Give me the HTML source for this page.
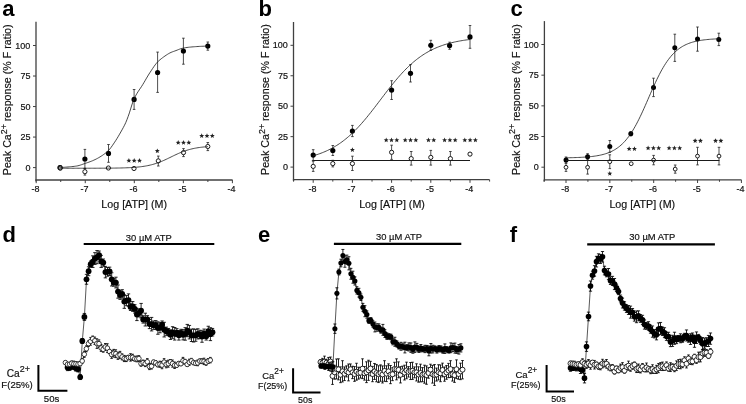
<!DOCTYPE html>
<html><head><meta charset="utf-8"><title>Figure</title><style>html,body{margin:0;padding:0;background:#fff;width:746px;height:404px;overflow:hidden}
svg{display:block;will-change:transform}
text{font-family:"Liberation Sans", sans-serif;fill:#111;stroke:#111;stroke-width:0.18px}
.tk{font-size:9px}
.ttl{font-size:10.7px}
.pl{font-size:22px;font-weight:bold;fill:#000;stroke:none}
.st{font-size:13px;letter-spacing:0px}
.atp{font-size:9.4px}
</style></head><body>
<svg width="746" height="404" viewBox="0 0 746 404">
<rect width="746" height="404" fill="#fff"/>
<line x1="36" y1="21.8" x2="36" y2="181.6" stroke="#404040" stroke-width="1.3"/>
<line x1="35.4" y1="180" x2="232.6" y2="180" stroke="#404040" stroke-width="1.3"/>
<line x1="33" y1="167.6" x2="36" y2="167.6" stroke="#404040" stroke-width="1"/>
<text x="30.4" y="170.7" text-anchor="end" class="tk">0</text>
<line x1="33" y1="137.07" x2="36" y2="137.07" stroke="#404040" stroke-width="1"/>
<text x="30.4" y="140.17" text-anchor="end" class="tk">25</text>
<line x1="33" y1="106.55" x2="36" y2="106.55" stroke="#404040" stroke-width="1"/>
<text x="30.4" y="109.65" text-anchor="end" class="tk">50</text>
<line x1="33" y1="76.02" x2="36" y2="76.02" stroke="#404040" stroke-width="1"/>
<text x="30.4" y="79.12" text-anchor="end" class="tk">75</text>
<line x1="33" y1="45.5" x2="36" y2="45.5" stroke="#404040" stroke-width="1"/>
<text x="30.4" y="48.6" text-anchor="end" class="tk">100</text>
<line x1="36.2" y1="180" x2="36.2" y2="183.2" stroke="#404040" stroke-width="1"/>
<text x="35.4" y="192.3" text-anchor="middle" class="tk">-8</text>
<line x1="60.73" y1="180" x2="60.73" y2="182" stroke="#404040" stroke-width="1"/>
<line x1="85.25" y1="180" x2="85.25" y2="183.2" stroke="#404040" stroke-width="1"/>
<text x="84.45" y="192.3" text-anchor="middle" class="tk">-7</text>
<line x1="109.77" y1="180" x2="109.77" y2="182" stroke="#404040" stroke-width="1"/>
<line x1="134.3" y1="180" x2="134.3" y2="183.2" stroke="#404040" stroke-width="1"/>
<text x="133.5" y="192.3" text-anchor="middle" class="tk">-6</text>
<line x1="158.82" y1="180" x2="158.82" y2="182" stroke="#404040" stroke-width="1"/>
<line x1="183.35" y1="180" x2="183.35" y2="183.2" stroke="#404040" stroke-width="1"/>
<text x="182.55" y="192.3" text-anchor="middle" class="tk">-5</text>
<line x1="207.88" y1="180" x2="207.88" y2="182" stroke="#404040" stroke-width="1"/>
<line x1="232.4" y1="180" x2="232.4" y2="183.2" stroke="#404040" stroke-width="1"/>
<text x="231.6" y="192.3" text-anchor="middle" class="tk">-4</text>
<text x="134.2" y="208.2" text-anchor="middle" class="ttl">Log [ATP] (M)</text>
<text transform="translate(11.2,175.2) rotate(-90)" class="ttl">Peak Ca<tspan dy="-4.2" font-size="8.8">2+</tspan><tspan dy="4.2"> response (% F ratio)</tspan></text>
<text x="2.2" y="16" class="pl">a</text>
<path d="M60 165.8V169.6M58.7 165.8h2.6M58.7 169.6h2.6" stroke="#222" stroke-width="0.8" fill="none"/>
<path d="M84.9 149.4V168.6M83.6 149.4h2.6M83.6 168.6h2.6" stroke="#222" stroke-width="0.8" fill="none"/>
<path d="M108.5 144.5V162.3M107.2 144.5h2.6M107.2 162.3h2.6" stroke="#222" stroke-width="0.8" fill="none"/>
<path d="M134.1 89.5V109.4M132.8 89.5h2.6M132.8 109.4h2.6" stroke="#222" stroke-width="0.8" fill="none"/>
<path d="M157.6 52.1V92.4M156.3 52.1h2.6M156.3 92.4h2.6" stroke="#222" stroke-width="0.8" fill="none"/>
<path d="M183.4 38.2V64.2M182.1 38.2h2.6M182.1 64.2h2.6" stroke="#222" stroke-width="0.8" fill="none"/>
<path d="M207.8 42V50.2M206.5 42h2.6M206.5 50.2h2.6" stroke="#222" stroke-width="0.8" fill="none"/>
<circle cx="60" cy="167.6" r="2.6" fill="#000"/>
<circle cx="84.9" cy="159" r="2.6" fill="#000"/>
<circle cx="108.5" cy="153.4" r="2.6" fill="#000"/>
<circle cx="134.1" cy="99.4" r="2.6" fill="#000"/>
<circle cx="157.6" cy="72.5" r="2.6" fill="#000"/>
<circle cx="183.4" cy="51" r="2.6" fill="#000"/>
<circle cx="207.8" cy="46.1" r="2.6" fill="#000"/>
<path d="M60.3 166V169.8M59 166h2.6M59 169.8h2.6" stroke="#222" stroke-width="0.8" fill="none"/>
<path d="M84.9 168.3V175.1M83.6 168.3h2.6M83.6 175.1h2.6" stroke="#222" stroke-width="0.8" fill="none"/>
<path d="M158.3 156.1V166M157 156.1h2.6M157 166h2.6" stroke="#222" stroke-width="0.8" fill="none"/>
<path d="M183.5 148.6V156.6M182.2 148.6h2.6M182.2 156.6h2.6" stroke="#222" stroke-width="0.8" fill="none"/>
<path d="M207.8 142.5V150.6M206.5 142.5h2.6M206.5 150.6h2.6" stroke="#222" stroke-width="0.8" fill="none"/>
<circle cx="60.3" cy="168" r="2.1" fill="#8a8a8a" stroke="#111" stroke-width="0.95"/>
<circle cx="84.9" cy="171.7" r="2.1" fill="#fff" stroke="#111" stroke-width="0.95"/>
<circle cx="108.4" cy="168" r="2.1" fill="#fff" stroke="#111" stroke-width="0.95"/>
<circle cx="134" cy="168.5" r="2.1" fill="#fff" stroke="#111" stroke-width="0.95"/>
<circle cx="158.3" cy="160.9" r="2.1" fill="#fff" stroke="#111" stroke-width="0.95"/>
<circle cx="183.5" cy="152.6" r="2.1" fill="#fff" stroke="#111" stroke-width="0.95"/>
<circle cx="207.8" cy="146.5" r="2.1" fill="#fff" stroke="#111" stroke-width="0.95"/>
<polyline points="60.73,167.51 61.95,167.43 63.18,167.34 64.4,167.25 65.63,167.15 66.86,167.05 68.08,166.95 69.31,166.84 70.54,166.73 71.76,166.62 72.99,166.5 74.21,166.36 75.44,166.2 76.67,166.02 77.89,165.79 79.12,165.47 80.35,165.09 81.57,164.68 82.8,164.24 84.02,163.8 85.25,163.38 86.48,162.97 87.7,162.56 88.93,162.13 90.15,161.68 91.38,161.21 92.61,160.71 93.83,160.17 95.06,159.6 96.29,158.99 97.51,158.35 98.74,157.66 99.96,156.93 101.19,156.17 102.42,155.36 103.64,154.51 104.87,153.59 106.1,152.6 107.32,151.53 108.55,150.35 109.77,149.02 111,147.47 112.23,145.76 113.45,143.96 114.68,142.13 115.91,140.26 117.13,138.3 118.36,136.26 119.59,134.15 120.81,132 122.04,129.84 123.26,127.62 124.49,125.25 125.72,122.66 126.94,119.69 128.17,116.41 129.4,112.89 130.62,108.96 131.85,104.99 133.07,101.34 134.3,98.37 135.53,95.94 136.75,93.78 137.98,91.82 139.2,89.97 140.43,88.16 141.66,86.32 142.88,84.36 144.11,82.3 145.34,80.2 146.56,78.1 147.79,76.03 149.01,74.03 150.24,72.13 151.47,70.26 152.69,68.4 153.92,66.6 155.15,64.9 156.37,63.35 157.6,62 158.82,60.81 160.05,59.72 161.28,58.72 162.5,57.78 163.73,56.89 164.96,56.03 166.18,55.19 167.41,54.38 168.63,53.63 169.86,52.96 171.09,52.39 172.31,51.89 173.54,51.45 174.77,51.01 175.99,50.57 177.22,50.08 178.44,49.58 179.67,49.11 180.9,48.71 182.12,48.39 183.35,48.11 184.58,47.86 185.8,47.65 187.03,47.47 188.25,47.31 189.48,47.17 190.71,47.05 191.93,46.93 193.16,46.83 194.39,46.74 195.61,46.65 196.84,46.57 198.06,46.49 199.29,46.42 200.52,46.35 201.74,46.29 202.97,46.24 204.2,46.2 205.42,46.16 206.65,46.13 207.88,46.11" fill="none" stroke="#1a1a1a" stroke-width="0.8"/>
<polyline points="60.73,168.25 61.95,168.25 63.18,168.25 64.4,168.25 65.63,168.25 66.86,168.25 68.08,168.25 69.31,168.25 70.54,168.25 71.76,168.25 72.99,168.25 74.21,168.25 75.44,168.24 76.67,168.24 77.89,168.24 79.12,168.24 80.35,168.24 81.57,168.24 82.8,168.24 84.02,168.24 85.25,168.24 86.48,168.24 87.7,168.23 88.93,168.23 90.15,168.23 91.38,168.23 92.61,168.23 93.83,168.22 95.06,168.22 96.29,168.22 97.51,168.21 98.74,168.21 99.96,168.2 101.19,168.2 102.42,168.19 103.64,168.19 104.87,168.18 106.1,168.17 107.32,168.16 108.55,168.15 109.77,168.14 111,168.13 112.23,168.12 113.45,168.1 114.68,168.08 115.91,168.06 117.13,168.04 118.36,168.02 119.59,168 120.81,167.97 122.04,167.94 123.26,167.9 124.49,167.86 125.72,167.82 126.94,167.77 128.17,167.72 129.4,167.66 130.62,167.6 131.85,167.53 133.07,167.45 134.3,167.36 135.53,167.27 136.75,167.16 137.98,167.04 139.2,166.92 140.43,166.78 141.66,166.62 142.88,166.45 144.11,166.27 145.34,166.07 146.56,165.85 147.79,165.61 149.01,165.35 150.24,165.07 151.47,164.77 152.69,164.44 153.92,164.1 155.15,163.72 156.37,163.32 157.6,162.9 158.82,162.45 160.05,161.98 161.28,161.49 162.5,160.98 163.73,160.44 164.96,159.89 166.18,159.32 167.41,158.74 168.63,158.15 169.86,157.56 171.09,156.96 172.31,156.36 173.54,155.76 174.77,155.17 175.99,154.6 177.22,154.03 178.44,153.48 179.67,152.95 180.9,152.44 182.12,151.95 183.35,151.48 184.58,151.04 185.8,150.62 187.03,150.22 188.25,149.85 189.48,149.51 190.71,149.19 191.93,148.89 193.16,148.61 194.39,148.35 195.61,148.12 196.84,147.9 198.06,147.7 199.29,147.52 200.52,147.35 201.74,147.2 202.97,147.06 204.2,146.94 205.42,146.82 206.65,146.72 207.88,146.63" fill="none" stroke="#1a1a1a" stroke-width="0.8"/>
<polygon points="128.9,158.1 129.58,159.77 131.37,159.9 129.99,161.06 130.43,162.8 128.9,161.85 127.37,162.8 127.81,161.06 126.43,159.9 128.22,159.77" fill="#222"/>
<polygon points="134.2,158.1 134.88,159.77 136.67,159.9 135.29,161.06 135.73,162.8 134.2,161.85 132.67,162.8 133.11,161.06 131.73,159.9 133.52,159.77" fill="#222"/>
<polygon points="139.5,158.1 140.18,159.77 141.97,159.9 140.59,161.06 141.03,162.8 139.5,161.85 137.97,162.8 138.41,161.06 137.03,159.9 138.82,159.77" fill="#222"/>
<polygon points="157.3,148.4 157.98,150.07 159.77,150.2 158.39,151.36 158.83,153.1 157.3,152.15 155.77,153.1 156.21,151.36 154.83,150.2 156.62,150.07" fill="#222"/>
<polygon points="178.2,140.1 178.88,141.77 180.67,141.9 179.29,143.06 179.73,144.8 178.2,143.85 176.67,144.8 177.11,143.06 175.73,141.9 177.52,141.77" fill="#222"/>
<polygon points="183.5,140.1 184.18,141.77 185.97,141.9 184.59,143.06 185.03,144.8 183.5,143.85 181.97,144.8 182.41,143.06 181.03,141.9 182.82,141.77" fill="#222"/>
<polygon points="188.8,140.1 189.48,141.77 191.27,141.9 189.89,143.06 190.33,144.8 188.8,143.85 187.27,144.8 187.71,143.06 186.33,141.9 188.12,141.77" fill="#222"/>
<polygon points="201.7,133.3 202.38,134.97 204.17,135.1 202.79,136.26 203.23,138 201.7,137.05 200.17,138 200.61,136.26 199.23,135.1 201.02,134.97" fill="#222"/>
<polygon points="207,133.3 207.68,134.97 209.47,135.1 208.09,136.26 208.53,138 207,137.05 205.47,138 205.91,136.26 204.53,135.1 206.32,134.97" fill="#222"/>
<polygon points="212.3,133.3 212.98,134.97 214.77,135.1 213.39,136.26 213.83,138 212.3,137.05 210.77,138 211.21,136.26 209.83,135.1 211.62,134.97" fill="#222"/>
<line x1="293.5" y1="22" x2="293.5" y2="181.2" stroke="#404040" stroke-width="1.3"/>
<line x1="292.9" y1="179.6" x2="489.5" y2="179.6" stroke="#404040" stroke-width="1.3"/>
<line x1="290.5" y1="167.1" x2="293.5" y2="167.1" stroke="#404040" stroke-width="1"/>
<text x="287.9" y="170.2" text-anchor="end" class="tk">0</text>
<line x1="290.5" y1="136.65" x2="293.5" y2="136.65" stroke="#404040" stroke-width="1"/>
<text x="287.9" y="139.75" text-anchor="end" class="tk">25</text>
<line x1="290.5" y1="106.2" x2="293.5" y2="106.2" stroke="#404040" stroke-width="1"/>
<text x="287.9" y="109.3" text-anchor="end" class="tk">50</text>
<line x1="290.5" y1="75.75" x2="293.5" y2="75.75" stroke="#404040" stroke-width="1"/>
<text x="287.9" y="78.85" text-anchor="end" class="tk">75</text>
<line x1="290.5" y1="45.3" x2="293.5" y2="45.3" stroke="#404040" stroke-width="1"/>
<text x="287.9" y="48.4" text-anchor="end" class="tk">100</text>
<line x1="293.6" y1="179.6" x2="293.6" y2="181.6" stroke="#404040" stroke-width="1"/>
<line x1="313.2" y1="179.6" x2="313.2" y2="182.8" stroke="#404040" stroke-width="1"/>
<text x="312.4" y="192.3" text-anchor="middle" class="tk">-8</text>
<line x1="332.8" y1="179.6" x2="332.8" y2="181.6" stroke="#404040" stroke-width="1"/>
<line x1="352.4" y1="179.6" x2="352.4" y2="182.8" stroke="#404040" stroke-width="1"/>
<text x="351.6" y="192.3" text-anchor="middle" class="tk">-7</text>
<line x1="372" y1="179.6" x2="372" y2="181.6" stroke="#404040" stroke-width="1"/>
<line x1="391.6" y1="179.6" x2="391.6" y2="182.8" stroke="#404040" stroke-width="1"/>
<text x="390.8" y="192.3" text-anchor="middle" class="tk">-6</text>
<line x1="411.2" y1="179.6" x2="411.2" y2="181.6" stroke="#404040" stroke-width="1"/>
<line x1="430.8" y1="179.6" x2="430.8" y2="182.8" stroke="#404040" stroke-width="1"/>
<text x="430" y="192.3" text-anchor="middle" class="tk">-5</text>
<line x1="450.4" y1="179.6" x2="450.4" y2="181.6" stroke="#404040" stroke-width="1"/>
<line x1="470" y1="179.6" x2="470" y2="182.8" stroke="#404040" stroke-width="1"/>
<text x="469.2" y="192.3" text-anchor="middle" class="tk">-4</text>
<line x1="489.6" y1="179.6" x2="489.6" y2="181.6" stroke="#404040" stroke-width="1"/>
<text x="392" y="208.2" text-anchor="middle" class="ttl">Log [ATP] (M)</text>
<text transform="translate(269,175) rotate(-90)" class="ttl">Peak Ca<tspan dy="-4.2" font-size="8.8">2+</tspan><tspan dy="4.2"> response (% F ratio)</tspan></text>
<text x="258.4" y="16" class="pl">b</text>
<path d="M313.2 149.7V160.5M311.9 149.7h2.6M311.9 160.5h2.6" stroke="#222" stroke-width="0.8" fill="none"/>
<path d="M332.8 145.5V155.5M331.5 145.5h2.6M331.5 155.5h2.6" stroke="#222" stroke-width="0.8" fill="none"/>
<path d="M352.4 125.4V136.6M351.1 125.4h2.6M351.1 136.6h2.6" stroke="#222" stroke-width="0.8" fill="none"/>
<path d="M391.6 80.7V99.5M390.3 80.7h2.6M390.3 99.5h2.6" stroke="#222" stroke-width="0.8" fill="none"/>
<path d="M410.5 64.6V82M409.2 64.6h2.6M409.2 82h2.6" stroke="#222" stroke-width="0.8" fill="none"/>
<path d="M430.8 40.3V50.3M429.5 40.3h2.6M429.5 50.3h2.6" stroke="#222" stroke-width="0.8" fill="none"/>
<path d="M449.6 42.2V49.3M448.3 42.2h2.6M448.3 49.3h2.6" stroke="#222" stroke-width="0.8" fill="none"/>
<path d="M470 25.5V48.3M468.7 25.5h2.6M468.7 48.3h2.6" stroke="#222" stroke-width="0.8" fill="none"/>
<circle cx="313.2" cy="155.1" r="2.6" fill="#000"/>
<circle cx="332.8" cy="150.5" r="2.6" fill="#000"/>
<circle cx="352.4" cy="131" r="2.6" fill="#000"/>
<circle cx="391.6" cy="90.1" r="2.6" fill="#000"/>
<circle cx="410.5" cy="73.3" r="2.6" fill="#000"/>
<circle cx="430.8" cy="45.3" r="2.6" fill="#000"/>
<circle cx="449.6" cy="45.6" r="2.6" fill="#000"/>
<circle cx="470" cy="36.9" r="2.6" fill="#000"/>
<path d="M313.2 161.2V171.4M311.9 161.2h2.6M311.9 171.4h2.6" stroke="#222" stroke-width="0.8" fill="none"/>
<path d="M332.8 160.3V166.9M331.5 160.3h2.6M331.5 166.9h2.6" stroke="#222" stroke-width="0.8" fill="none"/>
<path d="M352.4 156.2V170.5M351.1 156.2h2.6M351.1 170.5h2.6" stroke="#222" stroke-width="0.8" fill="none"/>
<path d="M391.6 145.2V159.4M390.3 145.2h2.6M390.3 159.4h2.6" stroke="#222" stroke-width="0.8" fill="none"/>
<path d="M411.2 151.5V165.1M409.9 151.5h2.6M409.9 165.1h2.6" stroke="#222" stroke-width="0.8" fill="none"/>
<path d="M430.8 150.4V165.1M429.5 150.4h2.6M429.5 165.1h2.6" stroke="#222" stroke-width="0.8" fill="none"/>
<path d="M450.4 151.5V165.1M449.1 151.5h2.6M449.1 165.1h2.6" stroke="#222" stroke-width="0.8" fill="none"/>
<path d="M470 152.6V155.6M468.7 152.6h2.6M468.7 155.6h2.6" stroke="#222" stroke-width="0.8" fill="none"/>
<circle cx="313.2" cy="166.4" r="2.1" fill="#fff" stroke="#111" stroke-width="0.95"/>
<circle cx="332.8" cy="163.6" r="2.1" fill="#fff" stroke="#111" stroke-width="0.95"/>
<circle cx="352.4" cy="163.6" r="2.1" fill="#fff" stroke="#111" stroke-width="0.95"/>
<circle cx="391.6" cy="152.3" r="2.1" fill="#fff" stroke="#111" stroke-width="0.95"/>
<circle cx="411.2" cy="158.6" r="2.1" fill="#fff" stroke="#111" stroke-width="0.95"/>
<circle cx="430.8" cy="157.4" r="2.1" fill="#fff" stroke="#111" stroke-width="0.95"/>
<circle cx="450.4" cy="158.6" r="2.1" fill="#fff" stroke="#111" stroke-width="0.95"/>
<circle cx="470" cy="154.1" r="2.1" fill="#fff" stroke="#111" stroke-width="0.95"/>
<polyline points="313.2,155.78 314.51,155.4 315.81,155 317.12,154.58 318.43,154.14 319.73,153.68 321.04,153.2 322.35,152.7 323.65,152.17 324.96,151.62 326.27,151.04 327.57,150.44 328.88,149.81 330.19,149.15 331.49,148.47 332.8,147.75 334.11,147.01 335.41,146.23 336.72,145.42 338.03,144.58 339.33,143.71 340.64,142.8 341.95,141.86 343.25,140.89 344.56,139.88 345.87,138.83 347.17,137.75 348.48,136.63 349.79,135.47 351.09,134.28 352.4,133.06 353.71,131.79 355.01,130.5 356.32,129.17 357.63,127.8 358.93,126.4 360.24,124.97 361.55,123.5 362.85,122.01 364.16,120.49 365.47,118.94 366.77,117.36 368.08,115.76 369.39,114.14 370.69,112.5 372,110.83 373.31,109.16 374.61,107.47 375.92,105.77 377.23,104.06 378.53,102.34 379.84,100.62 381.15,98.9 382.45,97.18 383.76,95.46 385.07,93.75 386.37,92.05 387.68,90.36 388.99,88.68 390.29,87.02 391.6,85.38 392.91,83.76 394.21,82.16 395.52,80.58 396.83,79.03 398.13,77.51 399.44,76.01 400.75,74.55 402.05,73.12 403.36,71.72 404.67,70.35 405.97,69.02 407.28,67.72 408.59,66.46 409.89,65.23 411.2,64.04 412.51,62.88 413.81,61.76 415.12,60.68 416.43,59.63 417.73,58.62 419.04,57.65 420.35,56.71 421.65,55.8 422.96,54.92 424.27,54.08 425.57,53.28 426.88,52.5 428.19,51.75 429.49,51.04 430.8,50.35 432.11,49.69 433.41,49.06 434.72,48.46 436.03,47.89 437.33,47.33 438.64,46.81 439.95,46.3 441.25,45.82 442.56,45.36 443.87,44.92 445.17,44.51 446.48,44.11 447.79,43.73 449.09,43.36 450.4,43.02 451.71,42.69 453.01,42.38 454.32,42.08 455.63,41.8 456.93,41.53 458.24,41.27 459.55,41.03 460.85,40.8 462.16,40.58 463.47,40.37 464.77,40.17 466.08,39.98 467.39,39.8 468.69,39.63 470,39.47" fill="none" stroke="#1a1a1a" stroke-width="0.8"/>
<line x1="313.2" y1="160.5" x2="470" y2="160.5" stroke="#1a1a1a" stroke-width="1"/>
<polygon points="352.4,147.3 353.08,148.97 354.87,149.1 353.49,150.26 353.93,152 352.4,151.05 350.87,152 351.31,150.26 349.93,149.1 351.72,148.97" fill="#222"/>
<polygon points="386.2,137.6 386.88,139.27 388.67,139.4 387.29,140.56 387.73,142.3 386.2,141.35 384.67,142.3 385.11,140.56 383.73,139.4 385.52,139.27" fill="#222"/>
<polygon points="391.5,137.6 392.18,139.27 393.97,139.4 392.59,140.56 393.03,142.3 391.5,141.35 389.97,142.3 390.41,140.56 389.03,139.4 390.82,139.27" fill="#222"/>
<polygon points="396.8,137.6 397.48,139.27 399.27,139.4 397.89,140.56 398.33,142.3 396.8,141.35 395.27,142.3 395.71,140.56 394.33,139.4 396.12,139.27" fill="#222"/>
<polygon points="405.2,137.6 405.88,139.27 407.67,139.4 406.29,140.56 406.73,142.3 405.2,141.35 403.67,142.3 404.11,140.56 402.73,139.4 404.52,139.27" fill="#222"/>
<polygon points="410.5,137.6 411.18,139.27 412.97,139.4 411.59,140.56 412.03,142.3 410.5,141.35 408.97,142.3 409.41,140.56 408.03,139.4 409.82,139.27" fill="#222"/>
<polygon points="415.8,137.6 416.48,139.27 418.27,139.4 416.89,140.56 417.33,142.3 415.8,141.35 414.27,142.3 414.71,140.56 413.33,139.4 415.12,139.27" fill="#222"/>
<polygon points="428.45,137.6 429.13,139.27 430.92,139.4 429.54,140.56 429.98,142.3 428.45,141.35 426.92,142.3 427.36,140.56 425.98,139.4 427.77,139.27" fill="#222"/>
<polygon points="433.75,137.6 434.43,139.27 436.22,139.4 434.84,140.56 435.28,142.3 433.75,141.35 432.22,142.3 432.66,140.56 431.28,139.4 433.07,139.27" fill="#222"/>
<polygon points="444.6,137.6 445.28,139.27 447.07,139.4 445.69,140.56 446.13,142.3 444.6,141.35 443.07,142.3 443.51,140.56 442.13,139.4 443.92,139.27" fill="#222"/>
<polygon points="449.9,137.6 450.58,139.27 452.37,139.4 450.99,140.56 451.43,142.3 449.9,141.35 448.37,142.3 448.81,140.56 447.43,139.4 449.22,139.27" fill="#222"/>
<polygon points="455.2,137.6 455.88,139.27 457.67,139.4 456.29,140.56 456.73,142.3 455.2,141.35 453.67,142.3 454.11,140.56 452.73,139.4 454.52,139.27" fill="#222"/>
<polygon points="464.8,137.6 465.48,139.27 467.27,139.4 465.89,140.56 466.33,142.3 464.8,141.35 463.27,142.3 463.71,140.56 462.33,139.4 464.12,139.27" fill="#222"/>
<polygon points="470.1,137.6 470.78,139.27 472.57,139.4 471.19,140.56 471.63,142.3 470.1,141.35 468.57,142.3 469.01,140.56 467.63,139.4 469.42,139.27" fill="#222"/>
<polygon points="475.4,137.6 476.08,139.27 477.87,139.4 476.49,140.56 476.93,142.3 475.4,141.35 473.87,142.3 474.31,140.56 472.93,139.4 474.72,139.27" fill="#222"/>
<line x1="544.4" y1="21.1" x2="544.4" y2="181.4" stroke="#404040" stroke-width="1.3"/>
<line x1="543.8" y1="179.8" x2="741.4" y2="179.8" stroke="#404040" stroke-width="1.3"/>
<line x1="541.4" y1="167.2" x2="544.4" y2="167.2" stroke="#404040" stroke-width="1"/>
<text x="538.8" y="170.3" text-anchor="end" class="tk">0</text>
<line x1="541.4" y1="136.52" x2="544.4" y2="136.52" stroke="#404040" stroke-width="1"/>
<text x="538.8" y="139.62" text-anchor="end" class="tk">25</text>
<line x1="541.4" y1="105.85" x2="544.4" y2="105.85" stroke="#404040" stroke-width="1"/>
<text x="538.8" y="108.95" text-anchor="end" class="tk">50</text>
<line x1="541.4" y1="75.17" x2="544.4" y2="75.17" stroke="#404040" stroke-width="1"/>
<text x="538.8" y="78.27" text-anchor="end" class="tk">75</text>
<line x1="541.4" y1="44.5" x2="544.4" y2="44.5" stroke="#404040" stroke-width="1"/>
<text x="538.8" y="47.6" text-anchor="end" class="tk">100</text>
<line x1="544.08" y1="179.8" x2="544.08" y2="181.8" stroke="#404040" stroke-width="1"/>
<line x1="566" y1="179.8" x2="566" y2="183" stroke="#404040" stroke-width="1"/>
<text x="565.2" y="192.3" text-anchor="middle" class="tk">-8</text>
<line x1="587.92" y1="179.8" x2="587.92" y2="181.8" stroke="#404040" stroke-width="1"/>
<line x1="609.85" y1="179.8" x2="609.85" y2="183" stroke="#404040" stroke-width="1"/>
<text x="609.05" y="192.3" text-anchor="middle" class="tk">-7</text>
<line x1="631.77" y1="179.8" x2="631.77" y2="181.8" stroke="#404040" stroke-width="1"/>
<line x1="653.7" y1="179.8" x2="653.7" y2="183" stroke="#404040" stroke-width="1"/>
<text x="652.9" y="192.3" text-anchor="middle" class="tk">-6</text>
<line x1="675.62" y1="179.8" x2="675.62" y2="181.8" stroke="#404040" stroke-width="1"/>
<line x1="697.55" y1="179.8" x2="697.55" y2="183" stroke="#404040" stroke-width="1"/>
<text x="696.75" y="192.3" text-anchor="middle" class="tk">-5</text>
<line x1="719.48" y1="179.8" x2="719.48" y2="181.8" stroke="#404040" stroke-width="1"/>
<line x1="741.4" y1="179.8" x2="741.4" y2="183" stroke="#404040" stroke-width="1"/>
<text x="740.6" y="192.3" text-anchor="middle" class="tk">-4</text>
<text x="642.3" y="208.2" text-anchor="middle" class="ttl">Log [ATP] (M)</text>
<text transform="translate(519.6,175) rotate(-90)" class="ttl">Peak Ca<tspan dy="-4.2" font-size="8.8">2+</tspan><tspan dy="4.2"> response (% F ratio)</tspan></text>
<text x="510.4" y="16" class="pl">c</text>
<path d="M566 157V163M564.7 157h2.6M564.7 163h2.6" stroke="#222" stroke-width="0.8" fill="none"/>
<path d="M587.6 153.7V159.7M586.3 153.7h2.6M586.3 159.7h2.6" stroke="#222" stroke-width="0.8" fill="none"/>
<path d="M609.8 140.5V152.3M608.5 140.5h2.6M608.5 152.3h2.6" stroke="#222" stroke-width="0.8" fill="none"/>
<path d="M630.8 131.8V135.8M629.5 131.8h2.6M629.5 135.8h2.6" stroke="#222" stroke-width="0.8" fill="none"/>
<path d="M653.5 78.2V96.6M652.2 78.2h2.6M652.2 96.6h2.6" stroke="#222" stroke-width="0.8" fill="none"/>
<path d="M674.8 34.2V61.4M673.5 34.2h2.6M673.5 61.4h2.6" stroke="#222" stroke-width="0.8" fill="none"/>
<path d="M697.5 27V51.2M696.2 27h2.6M696.2 51.2h2.6" stroke="#222" stroke-width="0.8" fill="none"/>
<path d="M718.8 33.2V45.6M717.5 33.2h2.6M717.5 45.6h2.6" stroke="#222" stroke-width="0.8" fill="none"/>
<circle cx="566" cy="160" r="2.5" fill="#000"/>
<circle cx="587.6" cy="156.7" r="2.5" fill="#000"/>
<circle cx="609.8" cy="146.4" r="2.5" fill="#000"/>
<circle cx="630.8" cy="133.8" r="2.5" fill="#000"/>
<circle cx="653.5" cy="87.4" r="2.5" fill="#000"/>
<circle cx="674.8" cy="47.8" r="2.5" fill="#000"/>
<circle cx="697.5" cy="39.1" r="2.5" fill="#000"/>
<circle cx="718.8" cy="39.4" r="2.5" fill="#000"/>
<path d="M566 163.2V171.4M564.7 163.2h2.6M564.7 171.4h2.6" stroke="#222" stroke-width="0.8" fill="none"/>
<path d="M587.6 160.5V174.1M586.3 160.5h2.6M586.3 174.1h2.6" stroke="#222" stroke-width="0.8" fill="none"/>
<path d="M609.8 154.8V168.6M608.5 154.8h2.6M608.5 168.6h2.6" stroke="#222" stroke-width="0.8" fill="none"/>
<path d="M653.6 155.4V164.8M652.3 155.4h2.6M652.3 164.8h2.6" stroke="#222" stroke-width="0.8" fill="none"/>
<path d="M675.2 165V173.2M673.9 165h2.6M673.9 173.2h2.6" stroke="#222" stroke-width="0.8" fill="none"/>
<path d="M697.5 147.3V164.9M696.2 147.3h2.6M696.2 164.9h2.6" stroke="#222" stroke-width="0.8" fill="none"/>
<path d="M719 147.3V164.9M717.7 147.3h2.6M717.7 164.9h2.6" stroke="#222" stroke-width="0.8" fill="none"/>
<circle cx="566" cy="167.3" r="1.9" fill="#fff" stroke="#111" stroke-width="0.95"/>
<circle cx="587.6" cy="167.3" r="1.9" fill="#fff" stroke="#111" stroke-width="0.95"/>
<circle cx="609.8" cy="161.7" r="1.9" fill="#fff" stroke="#111" stroke-width="0.95"/>
<circle cx="631.2" cy="163.7" r="1.9" fill="#fff" stroke="#111" stroke-width="0.95"/>
<circle cx="653.6" cy="160.1" r="1.9" fill="#fff" stroke="#111" stroke-width="0.95"/>
<circle cx="675.2" cy="169.1" r="1.9" fill="#fff" stroke="#111" stroke-width="0.95"/>
<circle cx="697.5" cy="156.1" r="1.9" fill="#fff" stroke="#111" stroke-width="0.95"/>
<circle cx="719" cy="156.1" r="1.9" fill="#fff" stroke="#111" stroke-width="0.95"/>
<polyline points="566,157.79 567.28,157.77 568.56,157.74 569.84,157.72 571.12,157.69 572.39,157.66 573.67,157.62 574.95,157.58 576.23,157.54 577.51,157.49 578.79,157.44 580.07,157.38 581.35,157.32 582.63,157.25 583.91,157.17 585.18,157.09 586.46,157 587.74,156.89 589.02,156.78 590.3,156.65 591.58,156.52 592.86,156.37 594.14,156.2 595.42,156.02 596.7,155.81 597.97,155.59 599.25,155.35 600.53,155.08 601.81,154.79 603.09,154.47 604.37,154.11 605.65,153.73 606.93,153.3 608.21,152.84 609.48,152.33 610.76,151.77 612.04,151.16 613.32,150.5 614.6,149.78 615.88,148.99 617.16,148.14 618.44,147.21 619.72,146.21 621,145.12 622.27,143.94 623.55,142.68 624.83,141.31 626.11,139.85 627.39,138.28 628.67,136.61 629.95,134.82 631.23,132.93 632.51,130.92 633.78,128.8 635.06,126.58 636.34,124.25 637.62,121.81 638.9,119.28 640.18,116.66 641.46,113.96 642.74,111.18 644.02,108.35 645.3,105.47 646.57,102.55 647.85,99.61 649.13,96.67 650.41,93.73 651.69,90.81 652.97,87.93 654.25,85.1 655.53,82.33 656.81,79.62 658.09,77 659.36,74.47 660.64,72.03 661.92,69.7 663.2,67.47 664.48,65.35 665.76,63.34 667.04,61.45 668.32,59.66 669.6,57.99 670.87,56.42 672.15,54.95 673.43,53.59 674.71,52.32 675.99,51.14 677.27,50.06 678.55,49.05 679.83,48.12 681.11,47.27 682.39,46.48 683.66,45.76 684.94,45.09 686.22,44.49 687.5,43.93 688.78,43.42 690.06,42.95 691.34,42.53 692.62,42.14 693.9,41.79 695.17,41.46 696.45,41.17 697.73,40.9 699.01,40.66 700.29,40.44 701.57,40.24 702.85,40.05 704.13,39.89 705.41,39.74 706.69,39.6 707.96,39.47 709.24,39.36 710.52,39.26 711.8,39.16 713.08,39.08 714.36,39 715.64,38.93 716.92,38.87 718.2,38.81 719.48,38.76" fill="none" stroke="#1a1a1a" stroke-width="0.8"/>
<line x1="566" y1="160.5" x2="719.48" y2="160.5" stroke="#1a1a1a" stroke-width="1"/>
<polygon points="609.8,171 610.48,172.67 612.27,172.8 610.89,173.96 611.33,175.7 609.8,174.75 608.27,175.7 608.71,173.96 607.33,172.8 609.12,172.67" fill="#222"/>
<polygon points="629.15,146.3 629.83,147.97 631.62,148.1 630.24,149.26 630.68,151 629.15,150.05 627.62,151 628.06,149.26 626.68,148.1 628.47,147.97" fill="#222"/>
<polygon points="634.45,146.3 635.13,147.97 636.92,148.1 635.54,149.26 635.98,151 634.45,150.05 632.92,151 633.36,149.26 631.98,148.1 633.77,147.97" fill="#222"/>
<polygon points="648.1,145.6 648.78,147.27 650.57,147.4 649.19,148.56 649.63,150.3 648.1,149.35 646.57,150.3 647.01,148.56 645.63,147.4 647.42,147.27" fill="#222"/>
<polygon points="653.4,145.6 654.08,147.27 655.87,147.4 654.49,148.56 654.93,150.3 653.4,149.35 651.87,150.3 652.31,148.56 650.93,147.4 652.72,147.27" fill="#222"/>
<polygon points="658.7,145.6 659.38,147.27 661.17,147.4 659.79,148.56 660.23,150.3 658.7,149.35 657.17,150.3 657.61,148.56 656.23,147.4 658.02,147.27" fill="#222"/>
<polygon points="669.1,145.6 669.78,147.27 671.57,147.4 670.19,148.56 670.63,150.3 669.1,149.35 667.57,150.3 668.01,148.56 666.63,147.4 668.42,147.27" fill="#222"/>
<polygon points="674.4,145.6 675.08,147.27 676.87,147.4 675.49,148.56 675.93,150.3 674.4,149.35 672.87,150.3 673.31,148.56 671.93,147.4 673.72,147.27" fill="#222"/>
<polygon points="679.7,145.6 680.38,147.27 682.17,147.4 680.79,148.56 681.23,150.3 679.7,149.35 678.17,150.3 678.61,148.56 677.23,147.4 679.02,147.27" fill="#222"/>
<polygon points="695.15,138.2 695.83,139.87 697.62,140 696.24,141.16 696.68,142.9 695.15,141.95 693.62,142.9 694.06,141.16 692.68,140 694.47,139.87" fill="#222"/>
<polygon points="700.45,138.2 701.13,139.87 702.92,140 701.54,141.16 701.98,142.9 700.45,141.95 698.92,142.9 699.36,141.16 697.98,140 699.77,139.87" fill="#222"/>
<polygon points="715.55,138.2 716.23,139.87 718.02,140 716.64,141.16 717.08,142.9 715.55,141.95 714.02,142.9 714.46,141.16 713.08,140 714.87,139.87" fill="#222"/>
<polygon points="720.85,138.2 721.53,139.87 723.32,140 721.94,141.16 722.38,142.9 720.85,141.95 719.32,142.9 719.76,141.16 718.38,140 720.17,139.87" fill="#222"/>
<text x="2.4" y="241.9" class="pl">d</text>
<line x1="83.7" y1="244" x2="214.3" y2="244" stroke="#000" stroke-width="2.2"/>
<text transform="translate(148.8,240.8) scale(1,1.05)" text-anchor="middle" class="atp">30 µM ATP</text>
<path d="M38.4 365V390.8H67.4" stroke="#000" stroke-width="2" fill="none"/>
<text x="18.3" y="376.6" text-anchor="middle" font-size="10.18" class="sc">Ca<tspan dy="-4.4" font-size="8.93">2+</tspan></text>
<text x="17.1" y="387.8" text-anchor="middle" font-size="9.6" class="sc">F(25%)</text>
<text x="51.6" y="401.6" text-anchor="middle" font-size="9.6" class="sc">50s</text>
<polyline points="67.6,367.49 69.7,367.59 71.8,366.35 73.9,366.78 76,368.2 78.1,369.03 80.2,377.1 82.3,340.98 84.4,316.92 86.5,279.3 88.6,271.26 90.7,264.16 92.8,261.65 94.9,258.53 97,257.13 99.1,255.04 101.2,261.4 103.3,262.58 105.4,272.12 107.5,271.84 109.6,271.36 111.7,279.36 113.8,282.42 115.9,282.55 118,291.57 120.1,295.03 122.2,293.93 124.3,301.58 126.4,300.65 128.5,300.09 130.6,306.88 132.7,306.43 134.8,308.88 136.9,314.49 139,313.01 141.1,310.64 143.2,319.43 145.3,319.59 147.4,319.33 149.5,324.05 151.6,324.16 153.7,325.17 155.8,324.91 157.9,328.03 160,327.74 162.1,324.69 164.2,329.63 166.3,331.21 168.4,332.12 170.5,334.67 172.6,332.52 174.7,333.78 176.8,332.53 178.9,335.35 181,332.85 183.1,334.77 185.2,333.92 187.3,330.58 189.4,332.17 191.5,335.33 193.6,335.47 195.7,335.33 197.8,333.86 199.9,334.43 202,336.51 204.1,333.55 206.2,336.36 208.3,331.18 210.4,334.17 212.5,332.2" fill="none" stroke="#111" stroke-width="0.7"/>
<path d="M67.6 364.36V370.61M65.9 364.36h3.4M65.9 370.61h3.4M69.7 364.8V370.38M68 364.8h3.4M68 370.38h3.4M71.8 363.83V368.86M70.1 363.83h3.4M70.1 368.86h3.4M73.9 364.18V369.39M72.2 364.18h3.4M72.2 369.39h3.4M76 365.28V371.13M74.3 365.28h3.4M74.3 371.13h3.4M78.1 366.15V371.91M76.4 366.15h3.4M76.4 371.91h3.4M80.2 374.67V379.54M78.5 374.67h3.4M78.5 379.54h3.4M82.3 338.5V343.47M80.6 338.5h3.4M80.6 343.47h3.4M84.4 313.44V320.4M82.7 313.44h3.4M82.7 320.4h3.4M86.5 274.37V284.23M84.8 274.37h3.4M84.8 284.23h3.4M88.6 266.81V275.72M86.9 266.81h3.4M86.9 275.72h3.4M90.7 261.06V267.26M89 261.06h3.4M89 267.26h3.4M92.8 255.83V267.46M91.1 255.83h3.4M91.1 267.46h3.4M94.9 252.65V264.41M93.2 252.65h3.4M93.2 264.41h3.4M97 250.57V263.7M95.3 250.57h3.4M95.3 263.7h3.4M99.1 251.03V259.05M97.4 251.03h3.4M97.4 259.05h3.4M101.2 255.38V267.43M99.5 255.38h3.4M99.5 267.43h3.4M103.3 259.02V266.14M101.6 259.02h3.4M101.6 266.14h3.4M105.4 266.39V277.86M103.7 266.39h3.4M103.7 277.86h3.4M107.5 267.48V276.21M105.8 267.48h3.4M105.8 276.21h3.4M109.6 267.15V275.57M107.9 267.15h3.4M107.9 275.57h3.4M111.7 272.76V285.97M110 272.76h3.4M110 285.97h3.4M113.8 278.62V286.21M112.1 278.62h3.4M112.1 286.21h3.4M115.9 277.2V287.9M114.2 277.2h3.4M114.2 287.9h3.4M118 284.98V298.16M116.3 284.98h3.4M116.3 298.16h3.4M120.1 290.68V299.38M118.4 290.68h3.4M118.4 299.38h3.4M122.2 289.69V298.16M120.5 289.69h3.4M120.5 298.16h3.4M124.3 294.82V308.34M122.6 294.82h3.4M122.6 308.34h3.4M126.4 295.59V305.71M124.7 295.59h3.4M124.7 305.71h3.4M128.5 293.9V306.28M126.8 293.9h3.4M126.8 306.28h3.4M130.6 303.26V310.49M128.9 303.26h3.4M128.9 310.49h3.4M132.7 301.55V311.31M131 301.55h3.4M131 311.31h3.4M134.8 304.71V313.05M133.1 304.71h3.4M133.1 313.05h3.4M136.9 308.39V320.59M135.2 308.39h3.4M135.2 320.59h3.4M139 309.15V316.86M137.3 309.15h3.4M137.3 316.86h3.4M141.1 303.41V317.86M139.4 303.41h3.4M139.4 317.86h3.4M143.2 315.77V323.09M141.5 315.77h3.4M141.5 323.09h3.4M145.3 313.19V325.98M143.6 313.19h3.4M143.6 325.98h3.4M147.4 315.66V323M145.7 315.66h3.4M145.7 323h3.4M149.5 319.45V328.64M147.8 319.45h3.4M147.8 328.64h3.4M151.6 317.41V330.92M149.9 317.41h3.4M149.9 330.92h3.4M153.7 320.98V329.36M152 320.98h3.4M152 329.36h3.4M155.8 320.62V329.19M154.1 320.62h3.4M154.1 329.19h3.4M157.9 321.8V334.26M156.2 321.8h3.4M156.2 334.26h3.4M160 322.7V332.77M158.3 322.7h3.4M158.3 332.77h3.4M162.1 320.98V328.39M160.4 320.98h3.4M160.4 328.39h3.4M164.2 322.31V336.94M162.5 322.31h3.4M162.5 336.94h3.4M166.3 327.11V335.31M164.6 327.11h3.4M164.6 335.31h3.4M168.4 328.47V335.77M166.7 328.47h3.4M166.7 335.77h3.4M170.5 329.86V339.48M168.8 329.86h3.4M168.8 339.48h3.4M172.6 326.71V338.34M170.9 326.71h3.4M170.9 338.34h3.4M174.7 327.5V340.06M173 327.5h3.4M173 340.06h3.4M176.8 328.64V336.43M175.1 328.64h3.4M175.1 336.43h3.4M178.9 330.63V340.08M177.2 330.63h3.4M177.2 340.08h3.4M181 329.29V336.42M179.3 329.29h3.4M179.3 336.42h3.4M183.1 329.66V339.89M181.4 329.66h3.4M181.4 339.89h3.4M185.2 327.64V340.19M183.5 327.64h3.4M183.5 340.19h3.4M187.3 324.42V336.74M185.6 324.42h3.4M185.6 336.74h3.4M189.4 325.43V338.91M187.7 325.43h3.4M187.7 338.91h3.4M191.5 329.14V341.51M189.8 329.14h3.4M189.8 341.51h3.4M193.6 328.91V342.02M191.9 328.91h3.4M191.9 342.02h3.4M195.7 329.37V341.29M194 329.37h3.4M194 341.29h3.4M197.8 328.77V338.96M196.1 328.77h3.4M196.1 338.96h3.4M199.9 330.25V338.61M198.2 330.25h3.4M198.2 338.61h3.4M202 330.76V342.25M200.3 330.76h3.4M200.3 342.25h3.4M204.1 329.06V338.03M202.4 329.06h3.4M202.4 338.03h3.4M206.2 332.67V340.06M204.5 332.67h3.4M204.5 340.06h3.4M208.3 326.26V336.11M206.6 326.26h3.4M206.6 336.11h3.4M210.4 327.72V340.61M208.7 327.72h3.4M208.7 340.61h3.4M212.5 328.44V335.96M210.8 328.44h3.4M210.8 335.96h3.4" stroke="#000" stroke-width="0.85" fill="none"/>
<circle cx="67.6" cy="367.49" r="2.9" fill="#000"/>
<circle cx="69.7" cy="367.59" r="2.9" fill="#000"/>
<circle cx="71.8" cy="366.35" r="2.9" fill="#000"/>
<circle cx="73.9" cy="366.78" r="2.9" fill="#000"/>
<circle cx="76" cy="368.2" r="2.9" fill="#000"/>
<circle cx="78.1" cy="369.03" r="2.9" fill="#000"/>
<circle cx="80.2" cy="377.1" r="2.9" fill="#000"/>
<circle cx="82.3" cy="340.98" r="2.9" fill="#000"/>
<circle cx="84.4" cy="316.92" r="2.9" fill="#000"/>
<circle cx="86.5" cy="279.3" r="2.9" fill="#000"/>
<circle cx="88.6" cy="271.26" r="2.9" fill="#000"/>
<circle cx="90.7" cy="264.16" r="2.9" fill="#000"/>
<circle cx="92.8" cy="261.65" r="2.9" fill="#000"/>
<circle cx="94.9" cy="258.53" r="2.9" fill="#000"/>
<circle cx="97" cy="257.13" r="2.9" fill="#000"/>
<circle cx="99.1" cy="255.04" r="2.9" fill="#000"/>
<circle cx="101.2" cy="261.4" r="2.9" fill="#000"/>
<circle cx="103.3" cy="262.58" r="2.9" fill="#000"/>
<circle cx="105.4" cy="272.12" r="2.9" fill="#000"/>
<circle cx="107.5" cy="271.84" r="2.9" fill="#000"/>
<circle cx="109.6" cy="271.36" r="2.9" fill="#000"/>
<circle cx="111.7" cy="279.36" r="2.9" fill="#000"/>
<circle cx="113.8" cy="282.42" r="2.9" fill="#000"/>
<circle cx="115.9" cy="282.55" r="2.9" fill="#000"/>
<circle cx="118" cy="291.57" r="2.9" fill="#000"/>
<circle cx="120.1" cy="295.03" r="2.9" fill="#000"/>
<circle cx="122.2" cy="293.93" r="2.9" fill="#000"/>
<circle cx="124.3" cy="301.58" r="2.9" fill="#000"/>
<circle cx="126.4" cy="300.65" r="2.9" fill="#000"/>
<circle cx="128.5" cy="300.09" r="2.9" fill="#000"/>
<circle cx="130.6" cy="306.88" r="2.9" fill="#000"/>
<circle cx="132.7" cy="306.43" r="2.9" fill="#000"/>
<circle cx="134.8" cy="308.88" r="2.9" fill="#000"/>
<circle cx="136.9" cy="314.49" r="2.9" fill="#000"/>
<circle cx="139" cy="313.01" r="2.9" fill="#000"/>
<circle cx="141.1" cy="310.64" r="2.9" fill="#000"/>
<circle cx="143.2" cy="319.43" r="2.9" fill="#000"/>
<circle cx="145.3" cy="319.59" r="2.9" fill="#000"/>
<circle cx="147.4" cy="319.33" r="2.9" fill="#000"/>
<circle cx="149.5" cy="324.05" r="2.9" fill="#000"/>
<circle cx="151.6" cy="324.16" r="2.9" fill="#000"/>
<circle cx="153.7" cy="325.17" r="2.9" fill="#000"/>
<circle cx="155.8" cy="324.91" r="2.9" fill="#000"/>
<circle cx="157.9" cy="328.03" r="2.9" fill="#000"/>
<circle cx="160" cy="327.74" r="2.9" fill="#000"/>
<circle cx="162.1" cy="324.69" r="2.9" fill="#000"/>
<circle cx="164.2" cy="329.63" r="2.9" fill="#000"/>
<circle cx="166.3" cy="331.21" r="2.9" fill="#000"/>
<circle cx="168.4" cy="332.12" r="2.9" fill="#000"/>
<circle cx="170.5" cy="334.67" r="2.9" fill="#000"/>
<circle cx="172.6" cy="332.52" r="2.9" fill="#000"/>
<circle cx="174.7" cy="333.78" r="2.9" fill="#000"/>
<circle cx="176.8" cy="332.53" r="2.9" fill="#000"/>
<circle cx="178.9" cy="335.35" r="2.9" fill="#000"/>
<circle cx="181" cy="332.85" r="2.9" fill="#000"/>
<circle cx="183.1" cy="334.77" r="2.9" fill="#000"/>
<circle cx="185.2" cy="333.92" r="2.9" fill="#000"/>
<circle cx="187.3" cy="330.58" r="2.9" fill="#000"/>
<circle cx="189.4" cy="332.17" r="2.9" fill="#000"/>
<circle cx="191.5" cy="335.33" r="2.9" fill="#000"/>
<circle cx="193.6" cy="335.47" r="2.9" fill="#000"/>
<circle cx="195.7" cy="335.33" r="2.9" fill="#000"/>
<circle cx="197.8" cy="333.86" r="2.9" fill="#000"/>
<circle cx="199.9" cy="334.43" r="2.9" fill="#000"/>
<circle cx="202" cy="336.51" r="2.9" fill="#000"/>
<circle cx="204.1" cy="333.55" r="2.9" fill="#000"/>
<circle cx="206.2" cy="336.36" r="2.9" fill="#000"/>
<circle cx="208.3" cy="331.18" r="2.9" fill="#000"/>
<circle cx="210.4" cy="334.17" r="2.9" fill="#000"/>
<circle cx="212.5" cy="332.2" r="2.9" fill="#000"/>
<polyline points="65.4,362.62 67.5,364.34 69.6,364.19 71.7,363.29 73.8,363.82 75.9,363.84 78,364.18 80.1,363.59 82.2,360.99 84.3,354.32 86.4,348.78 88.5,343.61 90.6,341.32 92.7,338.79 94.8,340.78 96.9,343.58 99,343.65 101.1,347.95 103.2,349.3 105.3,347.03 107.4,348.14 109.5,351.54 111.6,354.51 113.7,353.24 115.8,353.69 117.9,355.83 120,354.97 122.1,356.9 124.2,358.49 126.3,358.78 128.4,357.43 130.5,357.4 132.6,357.34 134.7,358.74 136.8,358.91 138.9,358.56 141,363.6 143.1,362.66 145.2,363.63 147.3,361.78 149.4,366.49 151.5,366.24 153.6,362.1 155.7,362.89 157.8,364.61 159.9,364.25 162,365.12 164.1,362.14 166.2,364.35 168.3,363.68 170.4,361.93 172.5,363.57 174.6,365.26 176.7,365.23 178.8,363.45 180.9,363.74 183,360.72 185.1,361.66 187.2,364.41 189.3,362.27 191.4,360.88 193.5,362.66 195.6,363.25 197.7,362.89 199.8,361.12 201.9,361.24 204,361.39 206.1,362.58 208.2,361.02 210.3,360.15" fill="none" stroke="#111" stroke-width="0.7"/>
<path d="M65.4 360.79V364.46M64.1 360.79h2.6M64.1 364.46h2.6M67.5 363.08V365.61M66.2 363.08h2.6M66.2 365.61h2.6M69.6 362.87V365.5M68.3 362.87h2.6M68.3 365.5h2.6M71.7 361.02V365.56M70.4 361.02h2.6M70.4 365.56h2.6M73.8 361.09V366.55M72.5 361.09h2.6M72.5 366.55h2.6M75.9 361.61V366.07M74.6 361.61h2.6M74.6 366.07h2.6M78 362.2V366.16M76.7 362.2h2.6M76.7 366.16h2.6M80.1 361.9V365.27M78.8 361.9h2.6M78.8 365.27h2.6M82.2 358.75V363.24M80.9 358.75h2.6M80.9 363.24h2.6M84.3 351.24V357.39M83 351.24h2.6M83 357.39h2.6M86.4 345.8V351.76M85.1 345.8h2.6M85.1 351.76h2.6M88.5 340.73V346.48M87.2 340.73h2.6M87.2 346.48h2.6M90.6 337.45V345.19M89.3 337.45h2.6M89.3 345.19h2.6M92.7 336.04V341.53M91.4 336.04h2.6M91.4 341.53h2.6M94.8 337.08V344.49M93.5 337.08h2.6M93.5 344.49h2.6M96.9 338.78V348.38M95.6 338.78h2.6M95.6 348.38h2.6M99 339.87V347.43M97.7 339.87h2.6M97.7 347.43h2.6M101.1 344.53V351.37M99.8 344.53h2.6M99.8 351.37h2.6M103.2 346.41V352.2M101.9 346.41h2.6M101.9 352.2h2.6M105.3 343.52V350.54M104 343.52h2.6M104 350.54h2.6M107.4 343.74V352.55M106.1 343.74h2.6M106.1 352.55h2.6M109.5 349.41V353.68M108.2 349.41h2.6M108.2 353.68h2.6M111.6 350.66V358.36M110.3 350.66h2.6M110.3 358.36h2.6M113.7 349.38V357.09M112.4 349.38h2.6M112.4 357.09h2.6M115.8 349.77V357.61M114.5 349.77h2.6M114.5 357.61h2.6M117.9 352.3V359.36M116.6 352.3h2.6M116.6 359.36h2.6M120 351.36V358.57M118.7 351.36h2.6M118.7 358.57h2.6M122.1 353.91V359.89M120.8 353.91h2.6M120.8 359.89h2.6M124.2 355.41V361.57M122.9 355.41h2.6M122.9 361.57h2.6M126.3 355.98V361.57M125 355.98h2.6M125 361.57h2.6M128.4 355.4V359.45M127.1 355.4h2.6M127.1 359.45h2.6M130.5 353.7V361.1M129.2 353.7h2.6M129.2 361.1h2.6M132.6 354.26V360.42M131.3 354.26h2.6M131.3 360.42h2.6M134.7 356.43V361.05M133.4 356.43h2.6M133.4 361.05h2.6M136.8 355.97V361.84M135.5 355.97h2.6M135.5 361.84h2.6M138.9 355.67V361.45M137.6 355.67h2.6M137.6 361.45h2.6M141 360.98V366.23M139.7 360.98h2.6M139.7 366.23h2.6M143.1 360.06V365.26M141.8 360.06h2.6M141.8 365.26h2.6M145.2 360.64V366.62M143.9 360.64h2.6M143.9 366.62h2.6M147.3 358.62V364.93M146 358.62h2.6M146 364.93h2.6M149.4 363.36V369.62M148.1 363.36h2.6M148.1 369.62h2.6M151.5 363.43V369.05M150.2 363.43h2.6M150.2 369.05h2.6M153.6 360.16V364.03M152.3 360.16h2.6M152.3 364.03h2.6M155.7 360.55V365.23M154.4 360.55h2.6M154.4 365.23h2.6M157.8 362.38V366.84M156.5 362.38h2.6M156.5 366.84h2.6M159.9 361.2V367.3M158.6 361.2h2.6M158.6 367.3h2.6M162 361.51V368.72M160.7 361.51h2.6M160.7 368.72h2.6M164.1 358.66V365.61M162.8 358.66h2.6M162.8 365.61h2.6M166.2 360.89V367.82M164.9 360.89h2.6M164.9 367.82h2.6M168.3 360.18V367.18M167 360.18h2.6M167 367.18h2.6M170.4 359.56V364.3M169.1 359.56h2.6M169.1 364.3h2.6M172.5 360.03V367.11M171.2 360.03h2.6M171.2 367.11h2.6M174.6 362.06V368.46M173.3 362.06h2.6M173.3 368.46h2.6M176.7 363.22V367.24M175.4 363.22h2.6M175.4 367.24h2.6M178.8 361.57V365.32M177.5 361.57h2.6M177.5 365.32h2.6M180.9 361.87V365.61M179.6 361.87h2.6M179.6 365.61h2.6M183 357.38V364.06M181.7 357.38h2.6M181.7 364.06h2.6M185.1 359.33V363.99M183.8 359.33h2.6M183.8 363.99h2.6M187.2 362.36V366.46M185.9 362.36h2.6M185.9 366.46h2.6M189.3 359.21V365.34M188 359.21h2.6M188 365.34h2.6M191.4 358.37V363.39M190.1 358.37h2.6M190.1 363.39h2.6M193.5 360.7V364.62M192.2 360.7h2.6M192.2 364.62h2.6M195.6 361.11V365.39M194.3 361.11h2.6M194.3 365.39h2.6M197.7 360.03V365.75M196.4 360.03h2.6M196.4 365.75h2.6M199.8 358.97V363.26M198.5 358.97h2.6M198.5 363.26h2.6M201.9 358.89V363.59M200.6 358.89h2.6M200.6 363.59h2.6M204 358.18V364.59M202.7 358.18h2.6M202.7 364.59h2.6M206.1 359.88V365.27M204.8 359.88h2.6M204.8 365.27h2.6M208.2 358.59V363.46M206.9 358.59h2.6M206.9 363.46h2.6M210.3 357.42V362.87M209 357.42h2.6M209 362.87h2.6" stroke="#000" stroke-width="0.85" fill="none"/>
<circle cx="65.4" cy="362.62" r="2.3" fill="#fff" stroke="#111" stroke-width="0.8"/>
<circle cx="67.5" cy="364.34" r="2.3" fill="#fff" stroke="#111" stroke-width="0.8"/>
<circle cx="69.6" cy="364.19" r="2.3" fill="#fff" stroke="#111" stroke-width="0.8"/>
<circle cx="71.7" cy="363.29" r="2.3" fill="#fff" stroke="#111" stroke-width="0.8"/>
<circle cx="73.8" cy="363.82" r="2.3" fill="#fff" stroke="#111" stroke-width="0.8"/>
<circle cx="75.9" cy="363.84" r="2.3" fill="#fff" stroke="#111" stroke-width="0.8"/>
<circle cx="78" cy="364.18" r="2.3" fill="#fff" stroke="#111" stroke-width="0.8"/>
<circle cx="80.1" cy="363.59" r="2.3" fill="#fff" stroke="#111" stroke-width="0.8"/>
<circle cx="82.2" cy="360.99" r="2.3" fill="#fff" stroke="#111" stroke-width="0.8"/>
<circle cx="84.3" cy="354.32" r="2.3" fill="#fff" stroke="#111" stroke-width="0.8"/>
<circle cx="86.4" cy="348.78" r="2.3" fill="#fff" stroke="#111" stroke-width="0.8"/>
<circle cx="88.5" cy="343.61" r="2.3" fill="#fff" stroke="#111" stroke-width="0.8"/>
<circle cx="90.6" cy="341.32" r="2.3" fill="#fff" stroke="#111" stroke-width="0.8"/>
<circle cx="92.7" cy="338.79" r="2.3" fill="#fff" stroke="#111" stroke-width="0.8"/>
<circle cx="94.8" cy="340.78" r="2.3" fill="#fff" stroke="#111" stroke-width="0.8"/>
<circle cx="96.9" cy="343.58" r="2.3" fill="#fff" stroke="#111" stroke-width="0.8"/>
<circle cx="99" cy="343.65" r="2.3" fill="#fff" stroke="#111" stroke-width="0.8"/>
<circle cx="101.1" cy="347.95" r="2.3" fill="#fff" stroke="#111" stroke-width="0.8"/>
<circle cx="103.2" cy="349.3" r="2.3" fill="#fff" stroke="#111" stroke-width="0.8"/>
<circle cx="105.3" cy="347.03" r="2.3" fill="#fff" stroke="#111" stroke-width="0.8"/>
<circle cx="107.4" cy="348.14" r="2.3" fill="#fff" stroke="#111" stroke-width="0.8"/>
<circle cx="109.5" cy="351.54" r="2.3" fill="#fff" stroke="#111" stroke-width="0.8"/>
<circle cx="111.6" cy="354.51" r="2.3" fill="#fff" stroke="#111" stroke-width="0.8"/>
<circle cx="113.7" cy="353.24" r="2.3" fill="#fff" stroke="#111" stroke-width="0.8"/>
<circle cx="115.8" cy="353.69" r="2.3" fill="#fff" stroke="#111" stroke-width="0.8"/>
<circle cx="117.9" cy="355.83" r="2.3" fill="#fff" stroke="#111" stroke-width="0.8"/>
<circle cx="120" cy="354.97" r="2.3" fill="#fff" stroke="#111" stroke-width="0.8"/>
<circle cx="122.1" cy="356.9" r="2.3" fill="#fff" stroke="#111" stroke-width="0.8"/>
<circle cx="124.2" cy="358.49" r="2.3" fill="#fff" stroke="#111" stroke-width="0.8"/>
<circle cx="126.3" cy="358.78" r="2.3" fill="#fff" stroke="#111" stroke-width="0.8"/>
<circle cx="128.4" cy="357.43" r="2.3" fill="#fff" stroke="#111" stroke-width="0.8"/>
<circle cx="130.5" cy="357.4" r="2.3" fill="#fff" stroke="#111" stroke-width="0.8"/>
<circle cx="132.6" cy="357.34" r="2.3" fill="#fff" stroke="#111" stroke-width="0.8"/>
<circle cx="134.7" cy="358.74" r="2.3" fill="#fff" stroke="#111" stroke-width="0.8"/>
<circle cx="136.8" cy="358.91" r="2.3" fill="#fff" stroke="#111" stroke-width="0.8"/>
<circle cx="138.9" cy="358.56" r="2.3" fill="#fff" stroke="#111" stroke-width="0.8"/>
<circle cx="141" cy="363.6" r="2.3" fill="#fff" stroke="#111" stroke-width="0.8"/>
<circle cx="143.1" cy="362.66" r="2.3" fill="#fff" stroke="#111" stroke-width="0.8"/>
<circle cx="145.2" cy="363.63" r="2.3" fill="#fff" stroke="#111" stroke-width="0.8"/>
<circle cx="147.3" cy="361.78" r="2.3" fill="#fff" stroke="#111" stroke-width="0.8"/>
<circle cx="149.4" cy="366.49" r="2.3" fill="#fff" stroke="#111" stroke-width="0.8"/>
<circle cx="151.5" cy="366.24" r="2.3" fill="#fff" stroke="#111" stroke-width="0.8"/>
<circle cx="153.6" cy="362.1" r="2.3" fill="#fff" stroke="#111" stroke-width="0.8"/>
<circle cx="155.7" cy="362.89" r="2.3" fill="#fff" stroke="#111" stroke-width="0.8"/>
<circle cx="157.8" cy="364.61" r="2.3" fill="#fff" stroke="#111" stroke-width="0.8"/>
<circle cx="159.9" cy="364.25" r="2.3" fill="#fff" stroke="#111" stroke-width="0.8"/>
<circle cx="162" cy="365.12" r="2.3" fill="#fff" stroke="#111" stroke-width="0.8"/>
<circle cx="164.1" cy="362.14" r="2.3" fill="#fff" stroke="#111" stroke-width="0.8"/>
<circle cx="166.2" cy="364.35" r="2.3" fill="#fff" stroke="#111" stroke-width="0.8"/>
<circle cx="168.3" cy="363.68" r="2.3" fill="#fff" stroke="#111" stroke-width="0.8"/>
<circle cx="170.4" cy="361.93" r="2.3" fill="#fff" stroke="#111" stroke-width="0.8"/>
<circle cx="172.5" cy="363.57" r="2.3" fill="#fff" stroke="#111" stroke-width="0.8"/>
<circle cx="174.6" cy="365.26" r="2.3" fill="#fff" stroke="#111" stroke-width="0.8"/>
<circle cx="176.7" cy="365.23" r="2.3" fill="#fff" stroke="#111" stroke-width="0.8"/>
<circle cx="178.8" cy="363.45" r="2.3" fill="#fff" stroke="#111" stroke-width="0.8"/>
<circle cx="180.9" cy="363.74" r="2.3" fill="#fff" stroke="#111" stroke-width="0.8"/>
<circle cx="183" cy="360.72" r="2.3" fill="#fff" stroke="#111" stroke-width="0.8"/>
<circle cx="185.1" cy="361.66" r="2.3" fill="#fff" stroke="#111" stroke-width="0.8"/>
<circle cx="187.2" cy="364.41" r="2.3" fill="#fff" stroke="#111" stroke-width="0.8"/>
<circle cx="189.3" cy="362.27" r="2.3" fill="#fff" stroke="#111" stroke-width="0.8"/>
<circle cx="191.4" cy="360.88" r="2.3" fill="#fff" stroke="#111" stroke-width="0.8"/>
<circle cx="193.5" cy="362.66" r="2.3" fill="#fff" stroke="#111" stroke-width="0.8"/>
<circle cx="195.6" cy="363.25" r="2.3" fill="#fff" stroke="#111" stroke-width="0.8"/>
<circle cx="197.7" cy="362.89" r="2.3" fill="#fff" stroke="#111" stroke-width="0.8"/>
<circle cx="199.8" cy="361.12" r="2.3" fill="#fff" stroke="#111" stroke-width="0.8"/>
<circle cx="201.9" cy="361.24" r="2.3" fill="#fff" stroke="#111" stroke-width="0.8"/>
<circle cx="204" cy="361.39" r="2.3" fill="#fff" stroke="#111" stroke-width="0.8"/>
<circle cx="206.1" cy="362.58" r="2.3" fill="#fff" stroke="#111" stroke-width="0.8"/>
<circle cx="208.2" cy="361.02" r="2.3" fill="#fff" stroke="#111" stroke-width="0.8"/>
<circle cx="210.3" cy="360.15" r="2.3" fill="#fff" stroke="#111" stroke-width="0.8"/>
<text x="258" y="241.7" class="pl">e</text>
<line x1="333.9" y1="243.8" x2="461.3" y2="243.8" stroke="#000" stroke-width="2.2"/>
<text transform="translate(399,240.1) scale(1,1.05)" text-anchor="middle" class="atp">30 µM ATP</text>
<path d="M293.1 368.2V392.4H320.5" stroke="#000" stroke-width="2" fill="none"/>
<text x="273" y="378.8" text-anchor="middle" font-size="9.43" class="sc">Ca<tspan dy="-4.4" font-size="8.28">2+</tspan></text>
<text x="272.6" y="389.4" text-anchor="middle" font-size="8.9" class="sc">F(25%)</text>
<text x="305.2" y="403.4" text-anchor="middle" font-size="8.9" class="sc">50s</text>
<polyline points="320.5,362.1 322.5,362.74 324.5,361.71 326.5,362.71 328.5,363.76 330.5,361.52 332.5,375.97 334.5,372.23 336.5,368.96 338.5,369.34 340.5,374.77 342.5,371.31 344.5,373.74 346.5,371.37 348.5,372.45 350.5,369.24 352.5,372.44 354.5,373.99 356.5,371.72 358.5,373.17 360.5,372.72 362.5,368.71 364.5,373.3 366.5,372.21 368.5,370.31 370.5,368.53 372.5,374.05 374.5,371.46 376.5,373.09 378.5,374.16 380.5,373.08 382.5,374.45 384.5,370.99 386.5,373.68 388.5,371.33 390.5,374.58 392.5,374.22 394.5,369.07 396.5,369.33 398.5,369.87 400.5,374.82 402.5,371.33 404.5,372.6 406.5,370.46 408.5,371.83 410.5,371.04 412.5,370.81 414.5,372.37 416.5,372.37 418.5,374.49 420.5,373.03 422.5,374.67 424.5,374.2 426.5,375.1 428.5,372.99 430.5,369.65 432.5,374.26 434.5,374.95 436.5,374.57 438.5,372.36 440.5,373.32 442.5,370.01 444.5,374.12 446.5,372.42 448.5,370.53 450.5,369.07 452.5,374.3 454.5,375.2 456.5,369.26 458.5,373.97 460.5,371.4 462.5,369.7" fill="none" stroke="#111" stroke-width="0.7"/>
<path d="M320.5 359.57V364.63M319.2 359.57h2.6M319.2 364.63h2.6M322.5 358.37V367.12M321.2 358.37h2.6M321.2 367.12h2.6M324.5 356.14V367.27M323.2 356.14h2.6M323.2 367.27h2.6M326.5 359.22V366.2M325.2 359.22h2.6M325.2 366.2h2.6M328.5 357.43V370.1M327.2 357.43h2.6M327.2 370.1h2.6M330.5 357.04V366.01M329.2 357.04h2.6M329.2 366.01h2.6M332.5 367.53V384.42M331.2 367.53h2.6M331.2 384.42h2.6M334.5 365.3V379.16M333.2 365.3h2.6M333.2 379.16h2.6M336.5 358.99V378.92M335.2 358.99h2.6M335.2 378.92h2.6M338.5 358.82V379.86M337.2 358.82h2.6M337.2 379.86h2.6M340.5 366.88V382.67M339.2 366.88h2.6M339.2 382.67h2.6M342.5 360.7V381.93M341.2 360.7h2.6M341.2 381.93h2.6M344.5 366.93V380.55M343.2 366.93h2.6M343.2 380.55h2.6M346.5 365.85V376.9M345.2 365.85h2.6M345.2 376.9h2.6M348.5 364.04V380.87M347.2 364.04h2.6M347.2 380.87h2.6M350.5 363.96V374.51M349.2 363.96h2.6M349.2 374.51h2.6M352.5 366.25V378.63M351.2 366.25h2.6M351.2 378.63h2.6M354.5 366.63V381.34M353.2 366.63h2.6M353.2 381.34h2.6M356.5 363.25V380.19M355.2 363.25h2.6M355.2 380.19h2.6M358.5 367.21V379.13M357.2 367.21h2.6M357.2 379.13h2.6M360.5 367.38V378.05M359.2 367.38h2.6M359.2 378.05h2.6M362.5 358.82V378.61M361.2 358.82h2.6M361.2 378.61h2.6M364.5 366.47V380.14M363.2 366.47h2.6M363.2 380.14h2.6M366.5 361.81V382.61M365.2 361.81h2.6M365.2 382.61h2.6M368.5 360.25V380.36M367.2 360.25h2.6M367.2 380.36h2.6M370.5 361.34V375.72M369.2 361.34h2.6M369.2 375.72h2.6M372.5 366.4V381.69M371.2 366.4h2.6M371.2 381.69h2.6M374.5 363.49V379.43M373.2 363.49h2.6M373.2 379.43h2.6M376.5 364.44V381.75M375.2 364.44h2.6M375.2 381.75h2.6M378.5 365.77V382.55M377.2 365.77h2.6M377.2 382.55h2.6M380.5 364.89V381.27M379.2 364.89h2.6M379.2 381.27h2.6M382.5 365.93V382.98M381.2 365.93h2.6M381.2 382.98h2.6M384.5 360.69V381.29M383.2 360.69h2.6M383.2 381.29h2.6M386.5 365.78V381.58M385.2 365.78h2.6M385.2 381.58h2.6M388.5 363.85V378.82M387.2 363.85h2.6M387.2 378.82h2.6M390.5 365.5V383.66M389.2 365.5h2.6M389.2 383.66h2.6M392.5 367.8V380.63M391.2 367.8h2.6M391.2 380.63h2.6M394.5 362.3V375.83M393.2 362.3h2.6M393.2 375.83h2.6M396.5 358.83V379.83M395.2 358.83h2.6M395.2 379.83h2.6M398.5 361.89V377.85M397.2 361.89h2.6M397.2 377.85h2.6M400.5 366.69V382.95M399.2 366.69h2.6M399.2 382.95h2.6M402.5 366.17V376.5M401.2 366.17h2.6M401.2 376.5h2.6M404.5 365.21V379.99M403.2 365.21h2.6M403.2 379.99h2.6M406.5 362.16V378.76M405.2 362.16h2.6M405.2 378.76h2.6M408.5 366.62V377.04M407.2 366.62h2.6M407.2 377.04h2.6M410.5 362.53V379.54M409.2 362.53h2.6M409.2 379.54h2.6M412.5 362.22V379.41M411.2 362.22h2.6M411.2 379.41h2.6M414.5 366.93V377.8M413.2 366.93h2.6M413.2 377.8h2.6M416.5 363.8V380.94M415.2 363.8h2.6M415.2 380.94h2.6M418.5 366.81V382.17M417.2 366.81h2.6M417.2 382.17h2.6M420.5 364.18V381.88M419.2 364.18h2.6M419.2 381.88h2.6M422.5 367.62V381.72M421.2 367.62h2.6M421.2 381.72h2.6M424.5 365.19V383.2M423.2 365.19h2.6M423.2 383.2h2.6M426.5 365.92V384.27M425.2 365.92h2.6M425.2 384.27h2.6M428.5 367.77V378.22M427.2 367.77h2.6M427.2 378.22h2.6M430.5 364.21V375.08M429.2 364.21h2.6M429.2 375.08h2.6M432.5 365.42V383.09M431.2 365.42h2.6M431.2 383.09h2.6M434.5 364.53V385.38M433.2 364.53h2.6M433.2 385.38h2.6M436.5 368.08V381.05M435.2 368.08h2.6M435.2 381.05h2.6M438.5 364.74V379.98M437.2 364.74h2.6M437.2 379.98h2.6M440.5 364.95V381.7M439.2 364.95h2.6M439.2 381.7h2.6M442.5 363.15V376.88M441.2 363.15h2.6M441.2 376.88h2.6M444.5 367.01V381.23M443.2 367.01h2.6M443.2 381.23h2.6M446.5 365.59V379.25M445.2 365.59h2.6M445.2 379.25h2.6M448.5 363.39V377.66M447.2 363.39h2.6M447.2 377.66h2.6M450.5 360.68V377.46M449.2 360.68h2.6M449.2 377.46h2.6M452.5 367.54V381.06M451.2 367.54h2.6M451.2 381.06h2.6M454.5 368.02V382.39M453.2 368.02h2.6M453.2 382.39h2.6M456.5 359.89V378.63M455.2 359.89h2.6M455.2 378.63h2.6M458.5 368.72V379.22M457.2 368.72h2.6M457.2 379.22h2.6M460.5 363.16V379.65M459.2 363.16h2.6M459.2 379.65h2.6M462.5 360.53V378.86M461.2 360.53h2.6M461.2 378.86h2.6" stroke="#000" stroke-width="0.85" fill="none"/>
<circle cx="320.5" cy="362.1" r="2.5" fill="#fff" stroke="#111" stroke-width="0.9"/>
<circle cx="322.5" cy="362.74" r="2.5" fill="#fff" stroke="#111" stroke-width="0.9"/>
<circle cx="324.5" cy="361.71" r="2.5" fill="#fff" stroke="#111" stroke-width="0.9"/>
<circle cx="326.5" cy="362.71" r="2.5" fill="#fff" stroke="#111" stroke-width="0.9"/>
<circle cx="328.5" cy="363.76" r="2.5" fill="#fff" stroke="#111" stroke-width="0.9"/>
<circle cx="330.5" cy="361.52" r="2.5" fill="#fff" stroke="#111" stroke-width="0.9"/>
<circle cx="332.5" cy="375.97" r="2.5" fill="#fff" stroke="#111" stroke-width="0.9"/>
<circle cx="334.5" cy="372.23" r="2.5" fill="#fff" stroke="#111" stroke-width="0.9"/>
<circle cx="336.5" cy="368.96" r="2.5" fill="#fff" stroke="#111" stroke-width="0.9"/>
<circle cx="338.5" cy="369.34" r="2.5" fill="#fff" stroke="#111" stroke-width="0.9"/>
<circle cx="340.5" cy="374.77" r="2.5" fill="#fff" stroke="#111" stroke-width="0.9"/>
<circle cx="342.5" cy="371.31" r="2.5" fill="#fff" stroke="#111" stroke-width="0.9"/>
<circle cx="344.5" cy="373.74" r="2.5" fill="#fff" stroke="#111" stroke-width="0.9"/>
<circle cx="346.5" cy="371.37" r="2.5" fill="#fff" stroke="#111" stroke-width="0.9"/>
<circle cx="348.5" cy="372.45" r="2.5" fill="#fff" stroke="#111" stroke-width="0.9"/>
<circle cx="350.5" cy="369.24" r="2.5" fill="#fff" stroke="#111" stroke-width="0.9"/>
<circle cx="352.5" cy="372.44" r="2.5" fill="#fff" stroke="#111" stroke-width="0.9"/>
<circle cx="354.5" cy="373.99" r="2.5" fill="#fff" stroke="#111" stroke-width="0.9"/>
<circle cx="356.5" cy="371.72" r="2.5" fill="#fff" stroke="#111" stroke-width="0.9"/>
<circle cx="358.5" cy="373.17" r="2.5" fill="#fff" stroke="#111" stroke-width="0.9"/>
<circle cx="360.5" cy="372.72" r="2.5" fill="#fff" stroke="#111" stroke-width="0.9"/>
<circle cx="362.5" cy="368.71" r="2.5" fill="#fff" stroke="#111" stroke-width="0.9"/>
<circle cx="364.5" cy="373.3" r="2.5" fill="#fff" stroke="#111" stroke-width="0.9"/>
<circle cx="366.5" cy="372.21" r="2.5" fill="#fff" stroke="#111" stroke-width="0.9"/>
<circle cx="368.5" cy="370.31" r="2.5" fill="#fff" stroke="#111" stroke-width="0.9"/>
<circle cx="370.5" cy="368.53" r="2.5" fill="#fff" stroke="#111" stroke-width="0.9"/>
<circle cx="372.5" cy="374.05" r="2.5" fill="#fff" stroke="#111" stroke-width="0.9"/>
<circle cx="374.5" cy="371.46" r="2.5" fill="#fff" stroke="#111" stroke-width="0.9"/>
<circle cx="376.5" cy="373.09" r="2.5" fill="#fff" stroke="#111" stroke-width="0.9"/>
<circle cx="378.5" cy="374.16" r="2.5" fill="#fff" stroke="#111" stroke-width="0.9"/>
<circle cx="380.5" cy="373.08" r="2.5" fill="#fff" stroke="#111" stroke-width="0.9"/>
<circle cx="382.5" cy="374.45" r="2.5" fill="#fff" stroke="#111" stroke-width="0.9"/>
<circle cx="384.5" cy="370.99" r="2.5" fill="#fff" stroke="#111" stroke-width="0.9"/>
<circle cx="386.5" cy="373.68" r="2.5" fill="#fff" stroke="#111" stroke-width="0.9"/>
<circle cx="388.5" cy="371.33" r="2.5" fill="#fff" stroke="#111" stroke-width="0.9"/>
<circle cx="390.5" cy="374.58" r="2.5" fill="#fff" stroke="#111" stroke-width="0.9"/>
<circle cx="392.5" cy="374.22" r="2.5" fill="#fff" stroke="#111" stroke-width="0.9"/>
<circle cx="394.5" cy="369.07" r="2.5" fill="#fff" stroke="#111" stroke-width="0.9"/>
<circle cx="396.5" cy="369.33" r="2.5" fill="#fff" stroke="#111" stroke-width="0.9"/>
<circle cx="398.5" cy="369.87" r="2.5" fill="#fff" stroke="#111" stroke-width="0.9"/>
<circle cx="400.5" cy="374.82" r="2.5" fill="#fff" stroke="#111" stroke-width="0.9"/>
<circle cx="402.5" cy="371.33" r="2.5" fill="#fff" stroke="#111" stroke-width="0.9"/>
<circle cx="404.5" cy="372.6" r="2.5" fill="#fff" stroke="#111" stroke-width="0.9"/>
<circle cx="406.5" cy="370.46" r="2.5" fill="#fff" stroke="#111" stroke-width="0.9"/>
<circle cx="408.5" cy="371.83" r="2.5" fill="#fff" stroke="#111" stroke-width="0.9"/>
<circle cx="410.5" cy="371.04" r="2.5" fill="#fff" stroke="#111" stroke-width="0.9"/>
<circle cx="412.5" cy="370.81" r="2.5" fill="#fff" stroke="#111" stroke-width="0.9"/>
<circle cx="414.5" cy="372.37" r="2.5" fill="#fff" stroke="#111" stroke-width="0.9"/>
<circle cx="416.5" cy="372.37" r="2.5" fill="#fff" stroke="#111" stroke-width="0.9"/>
<circle cx="418.5" cy="374.49" r="2.5" fill="#fff" stroke="#111" stroke-width="0.9"/>
<circle cx="420.5" cy="373.03" r="2.5" fill="#fff" stroke="#111" stroke-width="0.9"/>
<circle cx="422.5" cy="374.67" r="2.5" fill="#fff" stroke="#111" stroke-width="0.9"/>
<circle cx="424.5" cy="374.2" r="2.5" fill="#fff" stroke="#111" stroke-width="0.9"/>
<circle cx="426.5" cy="375.1" r="2.5" fill="#fff" stroke="#111" stroke-width="0.9"/>
<circle cx="428.5" cy="372.99" r="2.5" fill="#fff" stroke="#111" stroke-width="0.9"/>
<circle cx="430.5" cy="369.65" r="2.5" fill="#fff" stroke="#111" stroke-width="0.9"/>
<circle cx="432.5" cy="374.26" r="2.5" fill="#fff" stroke="#111" stroke-width="0.9"/>
<circle cx="434.5" cy="374.95" r="2.5" fill="#fff" stroke="#111" stroke-width="0.9"/>
<circle cx="436.5" cy="374.57" r="2.5" fill="#fff" stroke="#111" stroke-width="0.9"/>
<circle cx="438.5" cy="372.36" r="2.5" fill="#fff" stroke="#111" stroke-width="0.9"/>
<circle cx="440.5" cy="373.32" r="2.5" fill="#fff" stroke="#111" stroke-width="0.9"/>
<circle cx="442.5" cy="370.01" r="2.5" fill="#fff" stroke="#111" stroke-width="0.9"/>
<circle cx="444.5" cy="374.12" r="2.5" fill="#fff" stroke="#111" stroke-width="0.9"/>
<circle cx="446.5" cy="372.42" r="2.5" fill="#fff" stroke="#111" stroke-width="0.9"/>
<circle cx="448.5" cy="370.53" r="2.5" fill="#fff" stroke="#111" stroke-width="0.9"/>
<circle cx="450.5" cy="369.07" r="2.5" fill="#fff" stroke="#111" stroke-width="0.9"/>
<circle cx="452.5" cy="374.3" r="2.5" fill="#fff" stroke="#111" stroke-width="0.9"/>
<circle cx="454.5" cy="375.2" r="2.5" fill="#fff" stroke="#111" stroke-width="0.9"/>
<circle cx="456.5" cy="369.26" r="2.5" fill="#fff" stroke="#111" stroke-width="0.9"/>
<circle cx="458.5" cy="373.97" r="2.5" fill="#fff" stroke="#111" stroke-width="0.9"/>
<circle cx="460.5" cy="371.4" r="2.5" fill="#fff" stroke="#111" stroke-width="0.9"/>
<circle cx="462.5" cy="369.7" r="2.5" fill="#fff" stroke="#111" stroke-width="0.9"/>
<polyline points="320.9,366 322.9,365.96 324.9,366.6 326.9,366.44 328.9,366.55 330.9,366.67 332.9,366.76 334.9,328.68 336.9,293.36 338.9,272.03 340.9,263.02 342.9,255.57 344.9,261.57 346.9,259.69 348.9,263.3 350.9,273.79 352.9,277.2 354.9,280.95 356.9,290.38 358.9,292.68 360.9,297.23 362.9,307.32 364.9,311.19 366.9,314.57 368.9,320.65 370.9,320.41 372.9,323.97 374.9,326.96 376.9,327.49 378.9,327.34 380.9,330.27 382.9,329.86 384.9,333.57 386.9,336.17 388.9,336.43 390.9,336.91 392.9,341.76 394.9,341.78 396.9,343.92 398.9,346.35 400.9,346.28 402.9,346.46 404.9,347.56 406.9,347.5 408.9,346.94 410.9,347.65 412.9,349.58 414.9,347.15 416.9,347.24 418.9,349.24 420.9,348.17 422.9,349.1 424.9,348.97 426.9,348.62 428.9,350.89 430.9,348.29 432.9,349.1 434.9,348.47 436.9,349.92 438.9,348.67 440.9,348.89 442.9,350.15 444.9,348.67 446.9,349.42 448.9,350.54 450.9,347.78 452.9,347.6 454.9,348.11 456.9,349.88 458.9,349.32 460.9,347.88" fill="none" stroke="#111" stroke-width="0.7"/>
<path d="M320.9 363.87V368.13M319.4 363.87h3M319.4 368.13h3M322.9 363.91V368M321.4 363.91h3M321.4 368h3M324.9 363.8V369.39M323.4 363.8h3M323.4 369.39h3M326.9 364.33V368.55M325.4 364.33h3M325.4 368.55h3M328.9 362.74V370.35M327.4 362.74h3M327.4 370.35h3M330.9 362.1V371.24M329.4 362.1h3M329.4 371.24h3M332.9 361.74V371.77M331.4 361.74h3M331.4 371.77h3M334.9 323.98V333.38M333.4 323.98h3M333.4 333.38h3M336.9 287.77V298.95M335.4 287.77h3M335.4 298.95h3M338.9 269.15V274.91M337.4 269.15h3M337.4 274.91h3M340.9 259.2V266.84M339.4 259.2h3M339.4 266.84h3M342.9 249.44V261.7M341.4 249.44h3M341.4 261.7h3M344.9 255.9V267.24M343.4 255.9h3M343.4 267.24h3M346.9 255.12V264.27M345.4 255.12h3M345.4 264.27h3M348.9 256.73V269.88M347.4 256.73h3M347.4 269.88h3M350.9 268.33V279.25M349.4 268.33h3M349.4 279.25h3M352.9 271.2V283.21M351.4 271.2h3M351.4 283.21h3M354.9 276.86V285.04M353.4 276.86h3M353.4 285.04h3M356.9 286.73V294.04M355.4 286.73h3M355.4 294.04h3M358.9 288.32V297.04M357.4 288.32h3M357.4 297.04h3M360.9 293.94V300.51M359.4 293.94h3M359.4 300.51h3M362.9 303.39V311.26M361.4 303.39h3M361.4 311.26h3M364.9 305.67V316.71M363.4 305.67h3M363.4 316.71h3M366.9 310.91V318.23M365.4 310.91h3M365.4 318.23h3M368.9 317.94V323.37M367.4 317.94h3M367.4 323.37h3M370.9 317.59V323.22M369.4 317.59h3M369.4 323.22h3M372.9 320.8V327.14M371.4 320.8h3M371.4 327.14h3M374.9 322.03V331.9M373.4 322.03h3M373.4 331.9h3M376.9 323.78V331.2M375.4 323.78h3M375.4 331.2h3M378.9 323.85V330.83M377.4 323.85h3M377.4 330.83h3M380.9 327.34V333.2M379.4 327.34h3M379.4 333.2h3M382.9 324.4V335.31M381.4 324.4h3M381.4 335.31h3M384.9 329.72V337.42M383.4 329.72h3M383.4 337.42h3M386.9 332.94V339.39M385.4 332.94h3M385.4 339.39h3M388.9 333.63V339.22M387.4 333.63h3M387.4 339.22h3M390.9 334.14V339.69M389.4 334.14h3M389.4 339.69h3M392.9 338.67V344.85M391.4 338.67h3M391.4 344.85h3M394.9 337.26V346.3M393.4 337.26h3M393.4 346.3h3M396.9 340.9V346.95M395.4 340.9h3M395.4 346.95h3M398.9 343.64V349.06M397.4 343.64h3M397.4 349.06h3M400.9 342.31V350.24M399.4 342.31h3M399.4 350.24h3M402.9 343.18V349.74M401.4 343.18h3M401.4 349.74h3M404.9 342.2V352.92M403.4 342.2h3M403.4 352.92h3M406.9 344.59V350.41M405.4 344.59h3M405.4 350.41h3M408.9 342.9V350.97M407.4 342.9h3M407.4 350.97h3M410.9 342.95V352.36M409.4 342.95h3M409.4 352.36h3M412.9 345.89V353.26M411.4 345.89h3M411.4 353.26h3M414.9 341.88V352.42M413.4 341.88h3M413.4 352.42h3M416.9 343.38V351.09M415.4 343.38h3M415.4 351.09h3M418.9 346.04V352.44M417.4 346.04h3M417.4 352.44h3M420.9 344.52V351.82M419.4 344.52h3M419.4 351.82h3M422.9 346.48V351.72M421.4 346.48h3M421.4 351.72h3M424.9 345.31V352.63M423.4 345.31h3M423.4 352.63h3M426.9 345.44V351.8M425.4 345.44h3M425.4 351.8h3M428.9 345.97V355.8M427.4 345.97h3M427.4 355.8h3M430.9 343.54V353.03M429.4 343.54h3M429.4 353.03h3M432.9 345.26V352.93M431.4 345.26h3M431.4 352.93h3M434.9 345.9V351.04M433.4 345.9h3M433.4 351.04h3M436.9 346.76V353.08M435.4 346.76h3M435.4 353.08h3M438.9 345.55V351.79M437.4 345.55h3M437.4 351.79h3M440.9 345.87V351.91M439.4 345.87h3M439.4 351.91h3M442.9 347.08V353.23M441.4 347.08h3M441.4 353.23h3M444.9 343.91V353.43M443.4 343.91h3M443.4 353.43h3M446.9 346.6V352.25M445.4 346.6h3M445.4 352.25h3M448.9 347.97V353.12M447.4 347.97h3M447.4 353.12h3M450.9 342.9V352.66M449.4 342.9h3M449.4 352.66h3M452.9 343.68V351.51M451.4 343.68h3M451.4 351.51h3M454.9 343.09V353.13M453.4 343.09h3M453.4 353.13h3M456.9 346.41V353.35M455.4 346.41h3M455.4 353.35h3M458.9 344.56V354.09M457.4 344.56h3M457.4 354.09h3M460.9 343.77V351.99M459.4 343.77h3M459.4 351.99h3" stroke="#000" stroke-width="0.85" fill="none"/>
<circle cx="320.9" cy="366" r="2.55" fill="#000"/>
<circle cx="322.9" cy="365.96" r="2.55" fill="#000"/>
<circle cx="324.9" cy="366.6" r="2.55" fill="#000"/>
<circle cx="326.9" cy="366.44" r="2.55" fill="#000"/>
<circle cx="328.9" cy="366.55" r="2.55" fill="#000"/>
<circle cx="330.9" cy="366.67" r="2.55" fill="#000"/>
<circle cx="332.9" cy="366.76" r="2.55" fill="#000"/>
<circle cx="334.9" cy="328.68" r="2.55" fill="#000"/>
<circle cx="336.9" cy="293.36" r="2.55" fill="#000"/>
<circle cx="338.9" cy="272.03" r="2.55" fill="#000"/>
<circle cx="340.9" cy="263.02" r="2.55" fill="#000"/>
<circle cx="342.9" cy="255.57" r="2.55" fill="#000"/>
<circle cx="344.9" cy="261.57" r="2.55" fill="#000"/>
<circle cx="346.9" cy="259.69" r="2.55" fill="#000"/>
<circle cx="348.9" cy="263.3" r="2.55" fill="#000"/>
<circle cx="350.9" cy="273.79" r="2.55" fill="#000"/>
<circle cx="352.9" cy="277.2" r="2.55" fill="#000"/>
<circle cx="354.9" cy="280.95" r="2.55" fill="#000"/>
<circle cx="356.9" cy="290.38" r="2.55" fill="#000"/>
<circle cx="358.9" cy="292.68" r="2.55" fill="#000"/>
<circle cx="360.9" cy="297.23" r="2.55" fill="#000"/>
<circle cx="362.9" cy="307.32" r="2.55" fill="#000"/>
<circle cx="364.9" cy="311.19" r="2.55" fill="#000"/>
<circle cx="366.9" cy="314.57" r="2.55" fill="#000"/>
<circle cx="368.9" cy="320.65" r="2.55" fill="#000"/>
<circle cx="370.9" cy="320.41" r="2.55" fill="#000"/>
<circle cx="372.9" cy="323.97" r="2.55" fill="#000"/>
<circle cx="374.9" cy="326.96" r="2.55" fill="#000"/>
<circle cx="376.9" cy="327.49" r="2.55" fill="#000"/>
<circle cx="378.9" cy="327.34" r="2.55" fill="#000"/>
<circle cx="380.9" cy="330.27" r="2.55" fill="#000"/>
<circle cx="382.9" cy="329.86" r="2.55" fill="#000"/>
<circle cx="384.9" cy="333.57" r="2.55" fill="#000"/>
<circle cx="386.9" cy="336.17" r="2.55" fill="#000"/>
<circle cx="388.9" cy="336.43" r="2.55" fill="#000"/>
<circle cx="390.9" cy="336.91" r="2.55" fill="#000"/>
<circle cx="392.9" cy="341.76" r="2.55" fill="#000"/>
<circle cx="394.9" cy="341.78" r="2.55" fill="#000"/>
<circle cx="396.9" cy="343.92" r="2.55" fill="#000"/>
<circle cx="398.9" cy="346.35" r="2.55" fill="#000"/>
<circle cx="400.9" cy="346.28" r="2.55" fill="#000"/>
<circle cx="402.9" cy="346.46" r="2.55" fill="#000"/>
<circle cx="404.9" cy="347.56" r="2.55" fill="#000"/>
<circle cx="406.9" cy="347.5" r="2.55" fill="#000"/>
<circle cx="408.9" cy="346.94" r="2.55" fill="#000"/>
<circle cx="410.9" cy="347.65" r="2.55" fill="#000"/>
<circle cx="412.9" cy="349.58" r="2.55" fill="#000"/>
<circle cx="414.9" cy="347.15" r="2.55" fill="#000"/>
<circle cx="416.9" cy="347.24" r="2.55" fill="#000"/>
<circle cx="418.9" cy="349.24" r="2.55" fill="#000"/>
<circle cx="420.9" cy="348.17" r="2.55" fill="#000"/>
<circle cx="422.9" cy="349.1" r="2.55" fill="#000"/>
<circle cx="424.9" cy="348.97" r="2.55" fill="#000"/>
<circle cx="426.9" cy="348.62" r="2.55" fill="#000"/>
<circle cx="428.9" cy="350.89" r="2.55" fill="#000"/>
<circle cx="430.9" cy="348.29" r="2.55" fill="#000"/>
<circle cx="432.9" cy="349.1" r="2.55" fill="#000"/>
<circle cx="434.9" cy="348.47" r="2.55" fill="#000"/>
<circle cx="436.9" cy="349.92" r="2.55" fill="#000"/>
<circle cx="438.9" cy="348.67" r="2.55" fill="#000"/>
<circle cx="440.9" cy="348.89" r="2.55" fill="#000"/>
<circle cx="442.9" cy="350.15" r="2.55" fill="#000"/>
<circle cx="444.9" cy="348.67" r="2.55" fill="#000"/>
<circle cx="446.9" cy="349.42" r="2.55" fill="#000"/>
<circle cx="448.9" cy="350.54" r="2.55" fill="#000"/>
<circle cx="450.9" cy="347.78" r="2.55" fill="#000"/>
<circle cx="452.9" cy="347.6" r="2.55" fill="#000"/>
<circle cx="454.9" cy="348.11" r="2.55" fill="#000"/>
<circle cx="456.9" cy="349.88" r="2.55" fill="#000"/>
<circle cx="458.9" cy="349.32" r="2.55" fill="#000"/>
<circle cx="460.9" cy="347.88" r="2.55" fill="#000"/>
<text x="509.8" y="241.7" class="pl">f</text>
<line x1="587.2" y1="244.4" x2="714.9" y2="244.4" stroke="#000" stroke-width="2.2"/>
<text transform="translate(652.3,240.4) scale(1,1.05)" text-anchor="middle" class="atp">30 µM ATP</text>
<path d="M546.6 365V391.6H574" stroke="#000" stroke-width="2" fill="none"/>
<text x="526.3" y="377.7" text-anchor="middle" font-size="9.54" class="sc">Ca<tspan dy="-4.4" font-size="8.37">2+</tspan></text>
<text x="525.7" y="388.3" text-anchor="middle" font-size="9.0" class="sc">F(25%)</text>
<text x="558.5" y="402.1" text-anchor="middle" font-size="9.0" class="sc">50s</text>
<polyline points="570.5,368.07 572.5,368.19 574.5,367.73 576.5,367.55 578.5,367.43 580.5,369.15 582.5,369.98 584.5,378.16 586.5,346.62 588.5,316.46 590.5,286.06 592.5,275.18 594.5,270.94 596.5,261.65 598.5,258.42 600.5,258.91 602.5,256.82 604.5,270.56 606.5,273.54 608.5,273.93 610.5,280.63 612.5,280.93 614.5,284.05 616.5,287.79 618.5,291.57 620.5,298.45 622.5,303.06 624.5,305.96 626.5,308.6 628.5,309.99 630.5,312.13 632.5,312.31 634.5,316.81 636.5,316.84 638.5,315.86 640.5,318.49 642.5,319.85 644.5,324.55 646.5,325.82 648.5,325.94 650.5,329.17 652.5,331.59 654.5,333.88 656.5,334.72 658.5,329.04 660.5,328.44 662.5,331.3 664.5,332.68 666.5,336.33 668.5,336.57 670.5,342.05 672.5,340.83 674.5,338.27 676.5,339.68 678.5,338.51 680.5,338.29 682.5,339.08 684.5,336.4 686.5,335.47 688.5,338.86 690.5,339.12 692.5,337.14 694.5,341.26 696.5,337.71 698.5,337.62 700.5,340.63 702.5,343.63 704.5,343.15 706.5,342.1 708.5,340.95 710.5,338.61" fill="none" stroke="#111" stroke-width="0.7"/>
<path d="M570.5 364.89V371.26M568.9 364.89h3.2M568.9 371.26h3.2M572.5 366.45V369.92M570.9 366.45h3.2M570.9 369.92h3.2M574.5 365.17V370.28M572.9 365.17h3.2M572.9 370.28h3.2M576.5 364.18V370.93M574.9 364.18h3.2M574.9 370.93h3.2M578.5 364.59V370.26M576.9 364.59h3.2M576.9 370.26h3.2M580.5 364.84V373.47M578.9 364.84h3.2M578.9 373.47h3.2M582.5 367.19V372.77M580.9 367.19h3.2M580.9 372.77h3.2M584.5 373.38V382.93M582.9 373.38h3.2M582.9 382.93h3.2M586.5 341.86V351.39M584.9 341.86h3.2M584.9 351.39h3.2M588.5 312.13V320.79M586.9 312.13h3.2M586.9 320.79h3.2M590.5 280.97V291.16M588.9 280.97h3.2M588.9 291.16h3.2M592.5 271.2V279.16M590.9 271.2h3.2M590.9 279.16h3.2M594.5 265.68V276.19M592.9 265.68h3.2M592.9 276.19h3.2M596.5 256.34V266.96M594.9 256.34h3.2M594.9 266.96h3.2M598.5 253.84V263M596.9 253.84h3.2M596.9 263h3.2M600.5 254.38V263.44M598.9 254.38h3.2M598.9 263.44h3.2M602.5 251.52V262.11M600.9 251.52h3.2M600.9 262.11h3.2M604.5 266.23V274.89M602.9 266.23h3.2M602.9 274.89h3.2M606.5 270.26V276.82M604.9 270.26h3.2M604.9 276.82h3.2M608.5 268.5V279.36M606.9 268.5h3.2M606.9 279.36h3.2M610.5 276.76V284.49M608.9 276.76h3.2M608.9 284.49h3.2M612.5 276.34V285.51M610.9 276.34h3.2M610.9 285.51h3.2M614.5 278.5V289.59M612.9 278.5h3.2M612.9 289.59h3.2M616.5 284.23V291.35M614.9 284.23h3.2M614.9 291.35h3.2M618.5 288.5V294.64M616.9 288.5h3.2M616.9 294.64h3.2M620.5 295.05V301.85M618.9 295.05h3.2M618.9 301.85h3.2M622.5 298.14V307.97M620.9 298.14h3.2M620.9 307.97h3.2M624.5 301.79V310.14M622.9 301.79h3.2M622.9 310.14h3.2M626.5 304.77V312.43M624.9 304.77h3.2M624.9 312.43h3.2M628.5 305.53V314.46M626.9 305.53h3.2M626.9 314.46h3.2M630.5 306.12V318.15M628.9 306.12h3.2M628.9 318.15h3.2M632.5 308.49V316.14M630.9 308.49h3.2M630.9 316.14h3.2M634.5 312.47V321.14M632.9 312.47h3.2M632.9 321.14h3.2M636.5 310.98V322.69M634.9 310.98h3.2M634.9 322.69h3.2M638.5 310.87V320.85M636.9 310.87h3.2M636.9 320.85h3.2M640.5 314.62V322.36M638.9 314.62h3.2M638.9 322.36h3.2M642.5 315.31V324.39M640.9 315.31h3.2M640.9 324.39h3.2M644.5 319.99V329.1M642.9 319.99h3.2M642.9 329.1h3.2M646.5 322.36V329.28M644.9 322.36h3.2M644.9 329.28h3.2M648.5 321.71V330.17M646.9 321.71h3.2M646.9 330.17h3.2M650.5 325.18V333.17M648.9 325.18h3.2M648.9 333.17h3.2M652.5 325.98V337.21M650.9 325.98h3.2M650.9 337.21h3.2M654.5 329.83V337.93M652.9 329.83h3.2M652.9 337.93h3.2M656.5 329.58V339.86M654.9 329.58h3.2M654.9 339.86h3.2M658.5 322.88V335.19M656.9 322.88h3.2M656.9 335.19h3.2M660.5 322.44V334.44M658.9 322.44h3.2M658.9 334.44h3.2M662.5 327.08V335.52M660.9 327.08h3.2M660.9 335.52h3.2M664.5 327.72V337.64M662.9 327.72h3.2M662.9 337.64h3.2M666.5 332.29V340.37M664.9 332.29h3.2M664.9 340.37h3.2M668.5 332.28V340.87M666.9 332.28h3.2M666.9 340.87h3.2M670.5 337.47V346.64M668.9 337.47h3.2M668.9 346.64h3.2M672.5 335.25V346.41M670.9 335.25h3.2M670.9 346.41h3.2M674.5 332.22V344.31M672.9 332.22h3.2M672.9 344.31h3.2M676.5 335.74V343.63M674.9 335.74h3.2M674.9 343.63h3.2M678.5 335.49V341.53M676.9 335.49h3.2M676.9 341.53h3.2M680.5 333.83V342.75M678.9 333.83h3.2M678.9 342.75h3.2M682.5 335.89V342.26M680.9 335.89h3.2M680.9 342.26h3.2M684.5 333.3V339.5M682.9 333.3h3.2M682.9 339.5h3.2M686.5 329.95V340.98M684.9 329.95h3.2M684.9 340.98h3.2M688.5 335.49V342.22M686.9 335.49h3.2M686.9 342.22h3.2M690.5 333.78V344.45M688.9 333.78h3.2M688.9 344.45h3.2M692.5 332.97V341.32M690.9 332.97h3.2M690.9 341.32h3.2M694.5 335.21V347.31M692.9 335.21h3.2M692.9 347.31h3.2M696.5 331.94V343.48M694.9 331.94h3.2M694.9 343.48h3.2M698.5 334.42V340.82M696.9 334.42h3.2M696.9 340.82h3.2M700.5 337V344.25M698.9 337h3.2M698.9 344.25h3.2M702.5 337.55V349.71M700.9 337.55h3.2M700.9 349.71h3.2M704.5 338.15V348.14M702.9 338.15h3.2M702.9 348.14h3.2M706.5 337.73V346.47M704.9 337.73h3.2M704.9 346.47h3.2M708.5 335.41V346.49M706.9 335.41h3.2M706.9 346.49h3.2M710.5 332.97V344.26M708.9 332.97h3.2M708.9 344.26h3.2" stroke="#000" stroke-width="0.85" fill="none"/>
<circle cx="570.5" cy="368.07" r="2.8" fill="#000"/>
<circle cx="572.5" cy="368.19" r="2.8" fill="#000"/>
<circle cx="574.5" cy="367.73" r="2.8" fill="#000"/>
<circle cx="576.5" cy="367.55" r="2.8" fill="#000"/>
<circle cx="578.5" cy="367.43" r="2.8" fill="#000"/>
<circle cx="580.5" cy="369.15" r="2.8" fill="#000"/>
<circle cx="582.5" cy="369.98" r="2.8" fill="#000"/>
<circle cx="584.5" cy="378.16" r="2.8" fill="#000"/>
<circle cx="586.5" cy="346.62" r="2.8" fill="#000"/>
<circle cx="588.5" cy="316.46" r="2.8" fill="#000"/>
<circle cx="590.5" cy="286.06" r="2.8" fill="#000"/>
<circle cx="592.5" cy="275.18" r="2.8" fill="#000"/>
<circle cx="594.5" cy="270.94" r="2.8" fill="#000"/>
<circle cx="596.5" cy="261.65" r="2.8" fill="#000"/>
<circle cx="598.5" cy="258.42" r="2.8" fill="#000"/>
<circle cx="600.5" cy="258.91" r="2.8" fill="#000"/>
<circle cx="602.5" cy="256.82" r="2.8" fill="#000"/>
<circle cx="604.5" cy="270.56" r="2.8" fill="#000"/>
<circle cx="606.5" cy="273.54" r="2.8" fill="#000"/>
<circle cx="608.5" cy="273.93" r="2.8" fill="#000"/>
<circle cx="610.5" cy="280.63" r="2.8" fill="#000"/>
<circle cx="612.5" cy="280.93" r="2.8" fill="#000"/>
<circle cx="614.5" cy="284.05" r="2.8" fill="#000"/>
<circle cx="616.5" cy="287.79" r="2.8" fill="#000"/>
<circle cx="618.5" cy="291.57" r="2.8" fill="#000"/>
<circle cx="620.5" cy="298.45" r="2.8" fill="#000"/>
<circle cx="622.5" cy="303.06" r="2.8" fill="#000"/>
<circle cx="624.5" cy="305.96" r="2.8" fill="#000"/>
<circle cx="626.5" cy="308.6" r="2.8" fill="#000"/>
<circle cx="628.5" cy="309.99" r="2.8" fill="#000"/>
<circle cx="630.5" cy="312.13" r="2.8" fill="#000"/>
<circle cx="632.5" cy="312.31" r="2.8" fill="#000"/>
<circle cx="634.5" cy="316.81" r="2.8" fill="#000"/>
<circle cx="636.5" cy="316.84" r="2.8" fill="#000"/>
<circle cx="638.5" cy="315.86" r="2.8" fill="#000"/>
<circle cx="640.5" cy="318.49" r="2.8" fill="#000"/>
<circle cx="642.5" cy="319.85" r="2.8" fill="#000"/>
<circle cx="644.5" cy="324.55" r="2.8" fill="#000"/>
<circle cx="646.5" cy="325.82" r="2.8" fill="#000"/>
<circle cx="648.5" cy="325.94" r="2.8" fill="#000"/>
<circle cx="650.5" cy="329.17" r="2.8" fill="#000"/>
<circle cx="652.5" cy="331.59" r="2.8" fill="#000"/>
<circle cx="654.5" cy="333.88" r="2.8" fill="#000"/>
<circle cx="656.5" cy="334.72" r="2.8" fill="#000"/>
<circle cx="658.5" cy="329.04" r="2.8" fill="#000"/>
<circle cx="660.5" cy="328.44" r="2.8" fill="#000"/>
<circle cx="662.5" cy="331.3" r="2.8" fill="#000"/>
<circle cx="664.5" cy="332.68" r="2.8" fill="#000"/>
<circle cx="666.5" cy="336.33" r="2.8" fill="#000"/>
<circle cx="668.5" cy="336.57" r="2.8" fill="#000"/>
<circle cx="670.5" cy="342.05" r="2.8" fill="#000"/>
<circle cx="672.5" cy="340.83" r="2.8" fill="#000"/>
<circle cx="674.5" cy="338.27" r="2.8" fill="#000"/>
<circle cx="676.5" cy="339.68" r="2.8" fill="#000"/>
<circle cx="678.5" cy="338.51" r="2.8" fill="#000"/>
<circle cx="680.5" cy="338.29" r="2.8" fill="#000"/>
<circle cx="682.5" cy="339.08" r="2.8" fill="#000"/>
<circle cx="684.5" cy="336.4" r="2.8" fill="#000"/>
<circle cx="686.5" cy="335.47" r="2.8" fill="#000"/>
<circle cx="688.5" cy="338.86" r="2.8" fill="#000"/>
<circle cx="690.5" cy="339.12" r="2.8" fill="#000"/>
<circle cx="692.5" cy="337.14" r="2.8" fill="#000"/>
<circle cx="694.5" cy="341.26" r="2.8" fill="#000"/>
<circle cx="696.5" cy="337.71" r="2.8" fill="#000"/>
<circle cx="698.5" cy="337.62" r="2.8" fill="#000"/>
<circle cx="700.5" cy="340.63" r="2.8" fill="#000"/>
<circle cx="702.5" cy="343.63" r="2.8" fill="#000"/>
<circle cx="704.5" cy="343.15" r="2.8" fill="#000"/>
<circle cx="706.5" cy="342.1" r="2.8" fill="#000"/>
<circle cx="708.5" cy="340.95" r="2.8" fill="#000"/>
<circle cx="710.5" cy="338.61" r="2.8" fill="#000"/>
<polyline points="570.5,363.46 572.5,363.82 574.5,364.08 576.5,364.64 578.5,364.19 580.5,364.96 582.5,362.13 584.5,363.65 586.5,364.7 588.5,363.43 590.5,365.12 592.5,362.62 594.5,364.73 596.5,364.5 598.5,366.38 600.5,366.26 602.5,363.55 604.5,363.97 606.5,363.82 608.5,366.54 610.5,367.99 612.5,367.54 614.5,371.46 616.5,368.47 618.5,370.25 620.5,367.95 622.5,367.18 624.5,370.64 626.5,366.86 628.5,365.68 630.5,367.77 632.5,366.1 634.5,364.79 636.5,368.9 638.5,368.27 640.5,369.59 642.5,366.81 644.5,369.31 646.5,367.5 648.5,369.09 650.5,370.24 652.5,369.08 654.5,370.82 656.5,369.39 658.5,368.07 660.5,366.48 662.5,366.31 664.5,367.83 666.5,365.29 668.5,368.51 670.5,367.14 672.5,366.89 674.5,368.25 676.5,365.74 678.5,364.08 680.5,364 682.5,364.19 684.5,360.35 686.5,363.77 688.5,358.5 690.5,361.36 692.5,361.33 694.5,356.97 696.5,360.05 698.5,357.05 700.5,357.04 702.5,353.33 704.5,352.66 706.5,352.76 708.5,355.92 710.5,351.76" fill="none" stroke="#111" stroke-width="0.7"/>
<path d="M570.5 361.23V365.68M569.2 361.23h2.6M569.2 365.68h2.6M572.5 361.17V366.48M571.2 361.17h2.6M571.2 366.48h2.6M574.5 361.21V366.96M573.2 361.21h2.6M573.2 366.96h2.6M576.5 362.54V366.73M575.2 362.54h2.6M575.2 366.73h2.6M578.5 361.94V366.44M577.2 361.94h2.6M577.2 366.44h2.6M580.5 362.26V367.67M579.2 362.26h2.6M579.2 367.67h2.6M582.5 358.78V365.49M581.2 358.78h2.6M581.2 365.49h2.6M584.5 361.5V365.8M583.2 361.5h2.6M583.2 365.8h2.6M586.5 361.04V368.37M585.2 361.04h2.6M585.2 368.37h2.6M588.5 359.52V367.35M587.2 359.52h2.6M587.2 367.35h2.6M590.5 361.06V369.19M589.2 361.06h2.6M589.2 369.19h2.6M592.5 360.42V364.81M591.2 360.42h2.6M591.2 364.81h2.6M594.5 360.44V369.01M593.2 360.44h2.6M593.2 369.01h2.6M596.5 362.17V366.83M595.2 362.17h2.6M595.2 366.83h2.6M598.5 363.47V369.29M597.2 363.47h2.6M597.2 369.29h2.6M600.5 362.72V369.8M599.2 362.72h2.6M599.2 369.8h2.6M602.5 359.29V367.8M601.2 359.29h2.6M601.2 367.8h2.6M604.5 361.04V366.9M603.2 361.04h2.6M603.2 366.9h2.6M606.5 359.52V368.11M605.2 359.52h2.6M605.2 368.11h2.6M608.5 363.12V369.96M607.2 363.12h2.6M607.2 369.96h2.6M610.5 365.1V370.87M609.2 365.1h2.6M609.2 370.87h2.6M612.5 364.63V370.44M611.2 364.63h2.6M611.2 370.44h2.6M614.5 368.88V374.04M613.2 368.88h2.6M613.2 374.04h2.6M616.5 366.12V370.82M615.2 366.12h2.6M615.2 370.82h2.6M618.5 367.72V372.77M617.2 367.72h2.6M617.2 372.77h2.6M620.5 364.14V371.75M619.2 364.14h2.6M619.2 371.75h2.6M622.5 362.64V371.72M621.2 362.64h2.6M621.2 371.72h2.6M624.5 368.06V373.21M623.2 368.06h2.6M623.2 373.21h2.6M626.5 364.55V369.17M625.2 364.55h2.6M625.2 369.17h2.6M628.5 361.14V370.23M627.2 361.14h2.6M627.2 370.23h2.6M630.5 364.29V371.24M629.2 364.29h2.6M629.2 371.24h2.6M632.5 362.92V369.28M631.2 362.92h2.6M631.2 369.28h2.6M634.5 362.01V367.57M633.2 362.01h2.6M633.2 367.57h2.6M636.5 365.25V372.54M635.2 365.25h2.6M635.2 372.54h2.6M638.5 364.06V372.48M637.2 364.06h2.6M637.2 372.48h2.6M640.5 366.27V372.92M639.2 366.27h2.6M639.2 372.92h2.6M642.5 363.56V370.07M641.2 363.56h2.6M641.2 370.07h2.6M644.5 366.94V371.68M643.2 366.94h2.6M643.2 371.68h2.6M646.5 363.03V371.96M645.2 363.03h2.6M645.2 371.96h2.6M648.5 366.76V371.41M647.2 366.76h2.6M647.2 371.41h2.6M650.5 366.78V373.69M649.2 366.78h2.6M649.2 373.69h2.6M652.5 364.77V373.38M651.2 364.77h2.6M651.2 373.38h2.6M654.5 368.24V373.4M653.2 368.24h2.6M653.2 373.4h2.6M656.5 365.33V373.46M655.2 365.33h2.6M655.2 373.46h2.6M658.5 363.46V372.68M657.2 363.46h2.6M657.2 372.68h2.6M660.5 362.65V370.31M659.2 362.65h2.6M659.2 370.31h2.6M662.5 362.08V370.54M661.2 362.08h2.6M661.2 370.54h2.6M664.5 365.28V370.38M663.2 365.28h2.6M663.2 370.38h2.6M666.5 361.92V368.66M665.2 361.92h2.6M665.2 368.66h2.6M668.5 365.84V371.18M667.2 365.84h2.6M667.2 371.18h2.6M670.5 362.73V371.54M669.2 362.73h2.6M669.2 371.54h2.6M672.5 363.85V369.94M671.2 363.85h2.6M671.2 369.94h2.6M674.5 364.8V371.69M673.2 364.8h2.6M673.2 371.69h2.6M676.5 360.92V370.57M675.2 360.92h2.6M675.2 370.57h2.6M678.5 359.61V368.54M677.2 359.61h2.6M677.2 368.54h2.6M680.5 359.21V368.78M679.2 359.21h2.6M679.2 368.78h2.6M682.5 360.71V367.66M681.2 360.71h2.6M681.2 367.66h2.6M684.5 356.78V363.92M683.2 356.78h2.6M683.2 363.92h2.6M686.5 359.58V367.96M685.2 359.58h2.6M685.2 367.96h2.6M688.5 354.94V362.07M687.2 354.94h2.6M687.2 362.07h2.6M690.5 358.27V364.45M689.2 358.27h2.6M689.2 364.45h2.6M692.5 357.94V364.71M691.2 357.94h2.6M691.2 364.71h2.6M694.5 354.24V359.7M693.2 354.24h2.6M693.2 359.7h2.6M696.5 356.72V363.38M695.2 356.72h2.6M695.2 363.38h2.6M698.5 352.15V361.96M697.2 352.15h2.6M697.2 361.96h2.6M700.5 352.2V361.89M699.2 352.2h2.6M699.2 361.89h2.6M702.5 349.33V357.32M701.2 349.33h2.6M701.2 357.32h2.6M704.5 348.98V356.33M703.2 348.98h2.6M703.2 356.33h2.6M706.5 349.49V356.02M705.2 349.49h2.6M705.2 356.02h2.6M708.5 353.3V358.55M707.2 353.3h2.6M707.2 358.55h2.6M710.5 348.65V354.86M709.2 348.65h2.6M709.2 354.86h2.6" stroke="#000" stroke-width="0.85" fill="none"/>
<circle cx="570.5" cy="363.46" r="2.5" fill="#fff" stroke="#111" stroke-width="0.85"/>
<circle cx="572.5" cy="363.82" r="2.5" fill="#fff" stroke="#111" stroke-width="0.85"/>
<circle cx="574.5" cy="364.08" r="2.5" fill="#fff" stroke="#111" stroke-width="0.85"/>
<circle cx="576.5" cy="364.64" r="2.5" fill="#fff" stroke="#111" stroke-width="0.85"/>
<circle cx="578.5" cy="364.19" r="2.5" fill="#fff" stroke="#111" stroke-width="0.85"/>
<circle cx="580.5" cy="364.96" r="2.5" fill="#fff" stroke="#111" stroke-width="0.85"/>
<circle cx="582.5" cy="362.13" r="2.5" fill="#fff" stroke="#111" stroke-width="0.85"/>
<circle cx="584.5" cy="363.65" r="2.5" fill="#fff" stroke="#111" stroke-width="0.85"/>
<circle cx="586.5" cy="364.7" r="2.5" fill="#fff" stroke="#111" stroke-width="0.85"/>
<circle cx="588.5" cy="363.43" r="2.5" fill="#fff" stroke="#111" stroke-width="0.85"/>
<circle cx="590.5" cy="365.12" r="2.5" fill="#fff" stroke="#111" stroke-width="0.85"/>
<circle cx="592.5" cy="362.62" r="2.5" fill="#fff" stroke="#111" stroke-width="0.85"/>
<circle cx="594.5" cy="364.73" r="2.5" fill="#fff" stroke="#111" stroke-width="0.85"/>
<circle cx="596.5" cy="364.5" r="2.5" fill="#fff" stroke="#111" stroke-width="0.85"/>
<circle cx="598.5" cy="366.38" r="2.5" fill="#fff" stroke="#111" stroke-width="0.85"/>
<circle cx="600.5" cy="366.26" r="2.5" fill="#fff" stroke="#111" stroke-width="0.85"/>
<circle cx="602.5" cy="363.55" r="2.5" fill="#fff" stroke="#111" stroke-width="0.85"/>
<circle cx="604.5" cy="363.97" r="2.5" fill="#fff" stroke="#111" stroke-width="0.85"/>
<circle cx="606.5" cy="363.82" r="2.5" fill="#fff" stroke="#111" stroke-width="0.85"/>
<circle cx="608.5" cy="366.54" r="2.5" fill="#fff" stroke="#111" stroke-width="0.85"/>
<circle cx="610.5" cy="367.99" r="2.5" fill="#fff" stroke="#111" stroke-width="0.85"/>
<circle cx="612.5" cy="367.54" r="2.5" fill="#fff" stroke="#111" stroke-width="0.85"/>
<circle cx="614.5" cy="371.46" r="2.5" fill="#fff" stroke="#111" stroke-width="0.85"/>
<circle cx="616.5" cy="368.47" r="2.5" fill="#fff" stroke="#111" stroke-width="0.85"/>
<circle cx="618.5" cy="370.25" r="2.5" fill="#fff" stroke="#111" stroke-width="0.85"/>
<circle cx="620.5" cy="367.95" r="2.5" fill="#fff" stroke="#111" stroke-width="0.85"/>
<circle cx="622.5" cy="367.18" r="2.5" fill="#fff" stroke="#111" stroke-width="0.85"/>
<circle cx="624.5" cy="370.64" r="2.5" fill="#fff" stroke="#111" stroke-width="0.85"/>
<circle cx="626.5" cy="366.86" r="2.5" fill="#fff" stroke="#111" stroke-width="0.85"/>
<circle cx="628.5" cy="365.68" r="2.5" fill="#fff" stroke="#111" stroke-width="0.85"/>
<circle cx="630.5" cy="367.77" r="2.5" fill="#fff" stroke="#111" stroke-width="0.85"/>
<circle cx="632.5" cy="366.1" r="2.5" fill="#fff" stroke="#111" stroke-width="0.85"/>
<circle cx="634.5" cy="364.79" r="2.5" fill="#fff" stroke="#111" stroke-width="0.85"/>
<circle cx="636.5" cy="368.9" r="2.5" fill="#fff" stroke="#111" stroke-width="0.85"/>
<circle cx="638.5" cy="368.27" r="2.5" fill="#fff" stroke="#111" stroke-width="0.85"/>
<circle cx="640.5" cy="369.59" r="2.5" fill="#fff" stroke="#111" stroke-width="0.85"/>
<circle cx="642.5" cy="366.81" r="2.5" fill="#fff" stroke="#111" stroke-width="0.85"/>
<circle cx="644.5" cy="369.31" r="2.5" fill="#fff" stroke="#111" stroke-width="0.85"/>
<circle cx="646.5" cy="367.5" r="2.5" fill="#fff" stroke="#111" stroke-width="0.85"/>
<circle cx="648.5" cy="369.09" r="2.5" fill="#fff" stroke="#111" stroke-width="0.85"/>
<circle cx="650.5" cy="370.24" r="2.5" fill="#fff" stroke="#111" stroke-width="0.85"/>
<circle cx="652.5" cy="369.08" r="2.5" fill="#fff" stroke="#111" stroke-width="0.85"/>
<circle cx="654.5" cy="370.82" r="2.5" fill="#fff" stroke="#111" stroke-width="0.85"/>
<circle cx="656.5" cy="369.39" r="2.5" fill="#fff" stroke="#111" stroke-width="0.85"/>
<circle cx="658.5" cy="368.07" r="2.5" fill="#fff" stroke="#111" stroke-width="0.85"/>
<circle cx="660.5" cy="366.48" r="2.5" fill="#fff" stroke="#111" stroke-width="0.85"/>
<circle cx="662.5" cy="366.31" r="2.5" fill="#fff" stroke="#111" stroke-width="0.85"/>
<circle cx="664.5" cy="367.83" r="2.5" fill="#fff" stroke="#111" stroke-width="0.85"/>
<circle cx="666.5" cy="365.29" r="2.5" fill="#fff" stroke="#111" stroke-width="0.85"/>
<circle cx="668.5" cy="368.51" r="2.5" fill="#fff" stroke="#111" stroke-width="0.85"/>
<circle cx="670.5" cy="367.14" r="2.5" fill="#fff" stroke="#111" stroke-width="0.85"/>
<circle cx="672.5" cy="366.89" r="2.5" fill="#fff" stroke="#111" stroke-width="0.85"/>
<circle cx="674.5" cy="368.25" r="2.5" fill="#fff" stroke="#111" stroke-width="0.85"/>
<circle cx="676.5" cy="365.74" r="2.5" fill="#fff" stroke="#111" stroke-width="0.85"/>
<circle cx="678.5" cy="364.08" r="2.5" fill="#fff" stroke="#111" stroke-width="0.85"/>
<circle cx="680.5" cy="364" r="2.5" fill="#fff" stroke="#111" stroke-width="0.85"/>
<circle cx="682.5" cy="364.19" r="2.5" fill="#fff" stroke="#111" stroke-width="0.85"/>
<circle cx="684.5" cy="360.35" r="2.5" fill="#fff" stroke="#111" stroke-width="0.85"/>
<circle cx="686.5" cy="363.77" r="2.5" fill="#fff" stroke="#111" stroke-width="0.85"/>
<circle cx="688.5" cy="358.5" r="2.5" fill="#fff" stroke="#111" stroke-width="0.85"/>
<circle cx="690.5" cy="361.36" r="2.5" fill="#fff" stroke="#111" stroke-width="0.85"/>
<circle cx="692.5" cy="361.33" r="2.5" fill="#fff" stroke="#111" stroke-width="0.85"/>
<circle cx="694.5" cy="356.97" r="2.5" fill="#fff" stroke="#111" stroke-width="0.85"/>
<circle cx="696.5" cy="360.05" r="2.5" fill="#fff" stroke="#111" stroke-width="0.85"/>
<circle cx="698.5" cy="357.05" r="2.5" fill="#fff" stroke="#111" stroke-width="0.85"/>
<circle cx="700.5" cy="357.04" r="2.5" fill="#fff" stroke="#111" stroke-width="0.85"/>
<circle cx="702.5" cy="353.33" r="2.5" fill="#fff" stroke="#111" stroke-width="0.85"/>
<circle cx="704.5" cy="352.66" r="2.5" fill="#fff" stroke="#111" stroke-width="0.85"/>
<circle cx="706.5" cy="352.76" r="2.5" fill="#fff" stroke="#111" stroke-width="0.85"/>
<circle cx="708.5" cy="355.92" r="2.5" fill="#fff" stroke="#111" stroke-width="0.85"/>
<circle cx="710.5" cy="351.76" r="2.5" fill="#fff" stroke="#111" stroke-width="0.85"/>
</svg>
</body></html>
